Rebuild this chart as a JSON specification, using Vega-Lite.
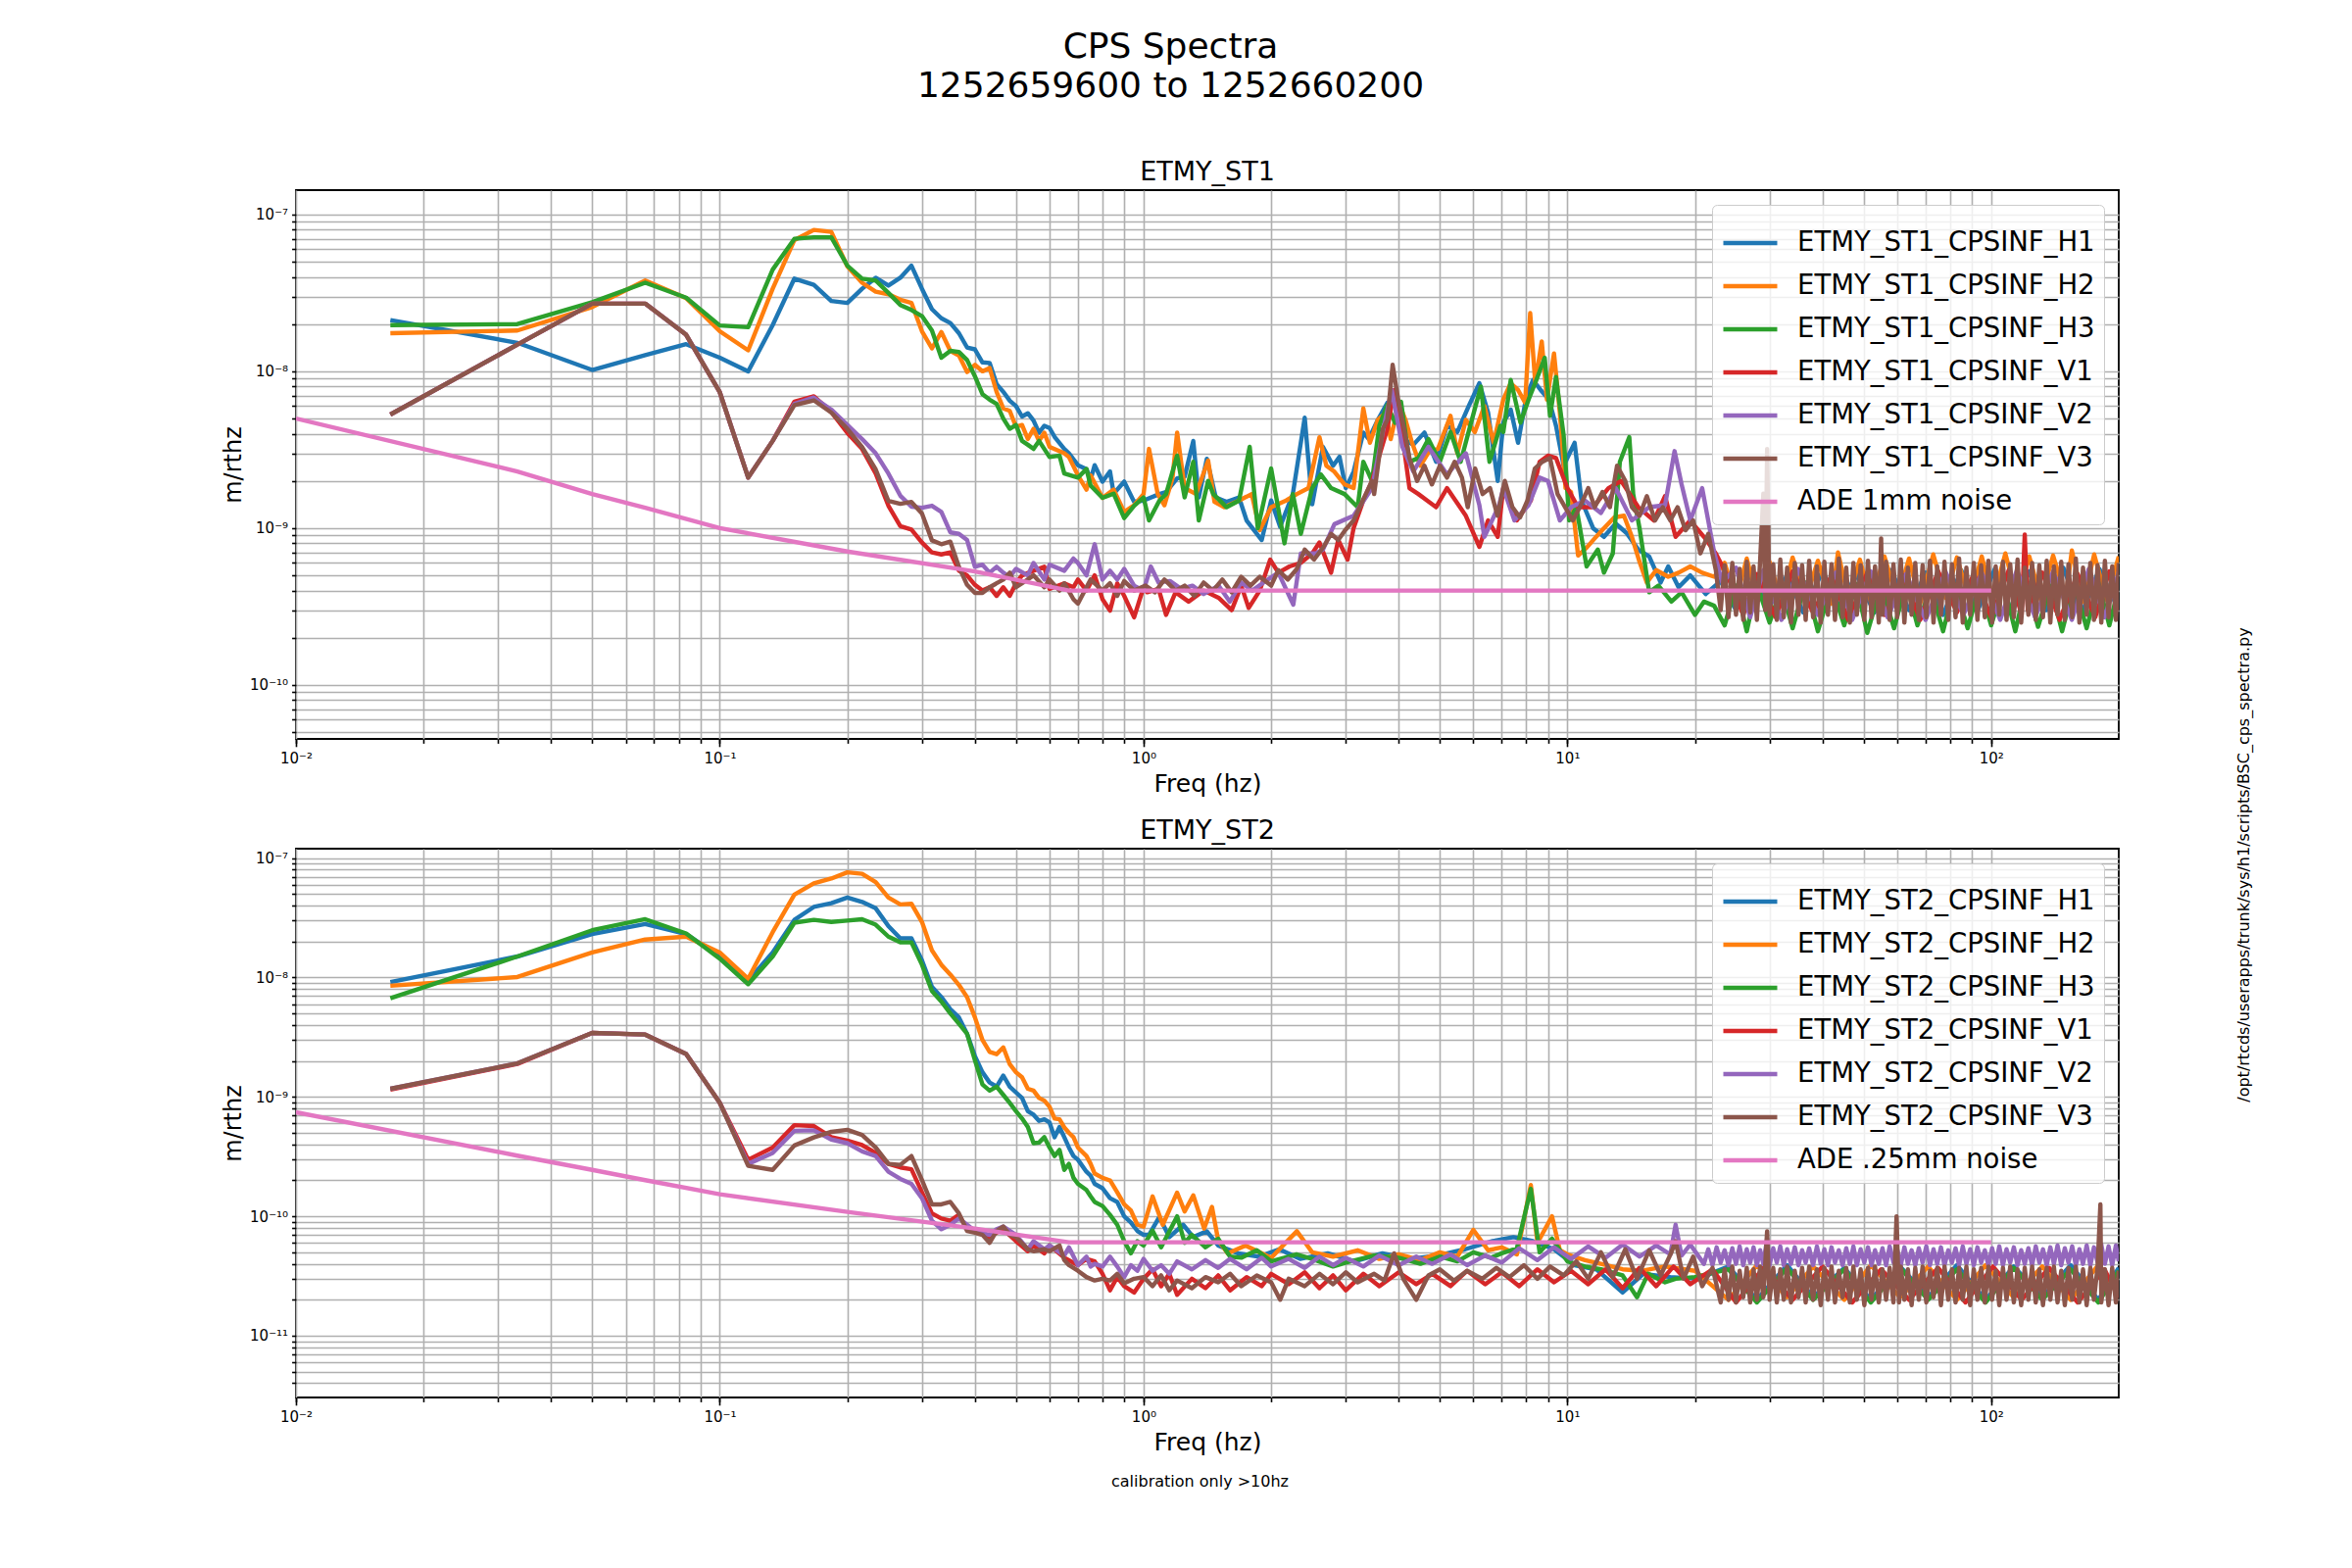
{
  "$schema": "https://vega.github.io/schema/vega-lite/v6.json",
  "background": "white",
  "padding": {"left": 225, "top": 30, "right": 10, "bottom": 10},
  "title": {
    "text": ["CPS Spectra", "1252659600 to 1252660200"],
    "fontSize": 36,
    "fontWeight": "normal",
    "lineHeight": 40,
    "anchor": "middle",
    "offset": 54,
    "dx": -67
  },
  "config": {
    "font": "DejaVu Sans",
    "view": {"stroke": "black", "strokeWidth": 1.8},
    "axis": {
      "gridColor": "#b0b0b0",
      "gridWidth": 1.6,
      "gridOpacity": 1,
      "domain": false,
      "tickColor": "black",
      "tickWidth": 1.6,
      "labelColor": "black",
      "titleColor": "black",
      "titleFontWeight": "normal",
      "labelOverlap": false,
      "labelFlush": false
    },
    "legend": {
      "orient": "top-right",
      "offset": 15,
      "padding": 9,
      "labelFontSize": 27.5,
      "labelColor": "black",
      "symbolType": "stroke",
      "symbolSize": 3025,
      "symbolStrokeWidth": 4.4,
      "rowPadding": 0,
      "labelOffset": 18,
      "fillColor": "rgba(255,255,255,0.8)",
      "strokeColor": "#cccccc",
      "cornerRadius": 5,
      "labelLimit": 600
    },
    "title": {"fontSize": 27, "fontWeight": "normal", "color": "black"}
  },
  "datasets": {
    "st1": [
      {"s":"H1","f":0.0167,"v":2.12e-8},{"s":"H1","f":0.0333,"v":1.52e-8},{"s":"H1","f":0.05,"v":1.02e-8},{"s":"H1","f":0.0667,"v":1.27e-8},{"s":"H1","f":0.0833,"v":1.49e-8},{"s":"H1","f":0.1,"v":1.22e-8},{"s":"H1","f":0.1167,"v":1.0e-8},{"s":"H1","f":0.1333,"v":1.97e-8},{"s":"H1","f":0.15,"v":3.9e-8},{"s":"H1","f":0.1667,"v":3.56e-8},{"s":"H1","f":0.1833,"v":2.81e-8},{"s":"H1","f":0.2,"v":2.73e-8},{"s":"H1","f":0.2167,"v":3.36e-8},{"s":"H1","f":0.2333,"v":3.95e-8},{"s":"H1","f":0.25,"v":3.52e-8},{"s":"H1","f":0.2667,"v":3.95e-8},{"s":"H1","f":0.2833,"v":4.72e-8},{"s":"H1","f":0.3,"v":3.36e-8},{"s":"H1","f":0.3167,"v":2.49e-8},{"s":"H1","f":0.3333,"v":2.18e-8},{"s":"H1","f":0.35,"v":2.03e-8},{"s":"H1","f":0.3667,"v":1.75e-8},{"s":"H1","f":0.3833,"v":1.42e-8},{"s":"H1","f":0.4,"v":1.38e-8},{"s":"H1","f":0.4167,"v":1.14e-8},{"s":"H1","f":0.4333,"v":1.13e-8},{"s":"H1","f":0.45,"v":8.3e-9},{"s":"H1","f":0.4667,"v":7.4e-9},{"s":"H1","f":0.4833,"v":6.5e-9},{"s":"H1","f":0.5,"v":6.0e-9},{"s":"H1","f":0.5167,"v":5.15e-9},{"s":"H1","f":0.5333,"v":5.4e-9},{"s":"H1","f":0.55,"v":4.85e-9},{"s":"H1","f":0.5667,"v":4.06e-9},{"s":"H1","f":0.5833,"v":4.5e-9},{"s":"H1","f":0.6,"v":4.35e-9},{"s":"H1","f":0.6167,"v":3.82e-9},{"s":"H1","f":0.65,"v":3.2e-9},{"s":"H1","f":0.6667,"v":3.0e-9},{"s":"H1","f":0.7,"v":2.52e-9},{"s":"H1","f":0.7333,"v":2.38e-9},{"s":"H1","f":0.75,"v":2.04e-9},{"s":"H1","f":0.7667,"v":2.52e-9},{"s":"H1","f":0.8,"v":1.98e-9},{"s":"H1","f":0.8333,"v":2.3e-9},{"s":"H1","f":0.85,"v":1.66e-9},{"s":"H1","f":0.9,"v":1.98e-9},{"s":"H1","f":0.95,"v":1.47e-9},{"s":"H1","f":1.0,"v":1.5e-9},{"s":"H1","f":1.09,"v":1.65e-9},{"s":"H1","f":1.13,"v":1.7e-9},{"s":"H1","f":1.2,"v":2.08e-9},{"s":"H1","f":1.25,"v":2.13e-9},{"s":"H1","f":1.31,"v":3.6e-9},{"s":"H1","f":1.35,"v":1.57e-9},{"s":"H1","f":1.41,"v":2.77e-9},{"s":"H1","f":1.48,"v":1.57e-9},{"s":"H1","f":1.57,"v":1.47e-9},{"s":"H1","f":1.68,"v":1.57e-9},{"s":"H1","f":1.75,"v":1.12e-9},{"s":"H1","f":1.9,"v":8.4e-10},{"s":"H1","f":2.0,"v":1.5e-9},{"s":"H1","f":2.1,"v":1.02e-9},{"s":"H1","f":2.25,"v":1.65e-9},{"s":"H1","f":2.4,"v":5.06e-9},{"s":"H1","f":2.5,"v":1.42e-9},{"s":"H1","f":2.65,"v":3.3e-9},{"s":"H1","f":2.8,"v":2.5e-9},{"s":"H1","f":2.9,"v":2.85e-9},{"s":"H1","f":3.0,"v":1.8e-9},{"s":"H1","f":3.13,"v":2.29e-9},{"s":"H1","f":3.3,"v":4.07e-9},{"s":"H1","f":3.4,"v":3.7e-9},{"s":"H1","f":3.57,"v":4.9e-9},{"s":"H1","f":3.76,"v":6.3e-9},{"s":"H1","f":3.92,"v":6.0e-9},{"s":"H1","f":4.1,"v":3.7e-9},{"s":"H1","f":4.33,"v":3.4e-9},{"s":"H1","f":4.6,"v":4.07e-9},{"s":"H1","f":4.9,"v":2.65e-9},{"s":"H1","f":5.2,"v":4.5e-9},{"s":"H1","f":5.5,"v":4.1e-9},{"s":"H1","f":5.85,"v":6.0e-9},{"s":"H1","f":6.2,"v":8.4e-9},{"s":"H1","f":6.5,"v":5.45e-9},{"s":"H1","f":6.85,"v":2.0e-9},{"s":"H1","f":7.06,"v":4.7e-9},{"s":"H1","f":7.35,"v":5.7e-9},{"s":"H1","f":7.65,"v":3.5e-9},{"s":"H1","f":8.0,"v":6.9e-9},{"s":"H1","f":8.3,"v":8.8e-9},{"s":"H1","f":8.65,"v":7.6e-9},{"s":"H1","f":9.05,"v":6.6e-9},{"s":"H1","f":9.4,"v":4.5e-9},{"s":"H1","f":9.8,"v":2.5e-9},{"s":"H1","f":10.4,"v":3.5e-9},{"s":"H1","f":10.8,"v":1.5e-9},{"s":"H1","f":11.5,"v":1.0e-9},{"s":"H1","f":12.2,"v":8.8e-10},{"s":"H1","f":13.0,"v":1.07e-9},{"s":"H1","f":13.8,"v":9.3e-10},{"s":"H1","f":14.7,"v":7.3e-10},{"s":"H1","f":15.6,"v":6.6e-10},{"s":"H1","f":16.6,"v":4.5e-10},{"s":"H1","f":17.3,"v":5.7e-10},{"s":"H1","f":18.3,"v":4.2e-10},{"s":"H1","f":19.5,"v":5.0e-10},{"s":"H1","f":21.2,"v":3.8e-10},{"s":"H1","f":23,"v":4.6e-10},{"s":"H1","f":25,"v":3.0e-10},{"s":"H1","f":27,"v":5.2e-10},{"s":"H1","f":30,"v":3.2e-10},{"s":"H1","f":33,"v":5.0e-10},{"s":"H1","f":36,"v":2.9e-10},{"s":"H1","f":40,"v":5.3e-10},{"s":"H1","f":44,"v":3.1e-10},{"s":"H1","f":48,"v":5.1e-10},{"s":"H1","f":53,"v":2.9e-10},{"s":"H1","f":58,"v":5.4e-10},{"s":"H1","f":64,"v":3.0e-10},{"s":"H1","f":70,"v":5.2e-10},{"s":"H1","f":77,"v":2.8e-10},{"s":"H1","f":85,"v":5.4e-10},{"s":"H1","f":93,"v":3.0e-10},{"s":"H1","f":102,"v":5.5e-10},{"s":"H1","f":112,"v":2.9e-10},{"s":"H1","f":123,"v":5.3e-10},{"s":"H1","f":135,"v":3.0e-10},{"s":"H1","f":148,"v":5.6e-10},{"s":"H1","f":163,"v":2.8e-10},{"s":"H1","f":180,"v":5.5e-10},{"s":"H1","f":200,"v":3.0e-10},
      {"s":"H2","f":0.0167,"v":1.75e-8},{"s":"H2","f":0.0333,"v":1.82e-8},{"s":"H2","f":0.05,"v":2.57e-8},{"s":"H2","f":0.0667,"v":3.79e-8},{"s":"H2","f":0.0833,"v":2.93e-8},{"s":"H2","f":0.1,"v":1.8e-8},{"s":"H2","f":0.1167,"v":1.36e-8},{"s":"H2","f":0.1333,"v":3.36e-8},{"s":"H2","f":0.15,"v":6.87e-8},{"s":"H2","f":0.1667,"v":7.97e-8},{"s":"H2","f":0.1833,"v":7.74e-8},{"s":"H2","f":0.2,"v":4.67e-8},{"s":"H2","f":0.2167,"v":3.67e-8},{"s":"H2","f":0.2333,"v":3.22e-8},{"s":"H2","f":0.25,"v":3.1e-8},{"s":"H2","f":0.2667,"v":2.86e-8},{"s":"H2","f":0.2833,"v":2.73e-8},{"s":"H2","f":0.3,"v":1.8e-8},{"s":"H2","f":0.3167,"v":1.4e-8},{"s":"H2","f":0.3333,"v":1.78e-8},{"s":"H2","f":0.35,"v":1.35e-8},{"s":"H2","f":0.3667,"v":1.26e-8},{"s":"H2","f":0.3833,"v":9.9e-9},{"s":"H2","f":0.4,"v":1.1e-8},{"s":"H2","f":0.4167,"v":1.0e-8},{"s":"H2","f":0.4333,"v":1.05e-8},{"s":"H2","f":0.45,"v":7.4e-9},{"s":"H2","f":0.4667,"v":5.8e-9},{"s":"H2","f":0.4833,"v":5.6e-9},{"s":"H2","f":0.5,"v":4.43e-9},{"s":"H2","f":0.5167,"v":4.55e-9},{"s":"H2","f":0.5333,"v":3.7e-9},{"s":"H2","f":0.55,"v":4.3e-9},{"s":"H2","f":0.5667,"v":3.6e-9},{"s":"H2","f":0.5833,"v":4.06e-9},{"s":"H2","f":0.6,"v":3.3e-9},{"s":"H2","f":0.65,"v":3.0e-9},{"s":"H2","f":0.6667,"v":2.84e-9},{"s":"H2","f":0.7,"v":2.17e-9},{"s":"H2","f":0.7333,"v":1.76e-9},{"s":"H2","f":0.75,"v":2.17e-9},{"s":"H2","f":0.8,"v":1.56e-9},{"s":"H2","f":0.85,"v":1.76e-9},{"s":"H2","f":0.9,"v":1.27e-9},{"s":"H2","f":0.95,"v":1.4e-9},{"s":"H2","f":1.0,"v":1.65e-9},{"s":"H2","f":1.03,"v":3.2e-9},{"s":"H2","f":1.08,"v":1.65e-9},{"s":"H2","f":1.12,"v":1.4e-9},{"s":"H2","f":1.17,"v":2.08e-9},{"s":"H2","f":1.2,"v":4.07e-9},{"s":"H2","f":1.25,"v":1.8e-9},{"s":"H2","f":1.33,"v":1.65e-9},{"s":"H2","f":1.42,"v":2.7e-9},{"s":"H2","f":1.47,"v":1.47e-9},{"s":"H2","f":1.55,"v":1.36e-9},{"s":"H2","f":1.68,"v":1.5e-9},{"s":"H2","f":1.8,"v":1.65e-9},{"s":"H2","f":1.88,"v":9.7e-10},{"s":"H2","f":2.0,"v":1.36e-9},{"s":"H2","f":2.17,"v":1.5e-9},{"s":"H2","f":2.3,"v":1.65e-9},{"s":"H2","f":2.45,"v":1.8e-9},{"s":"H2","f":2.6,"v":3.8e-9},{"s":"H2","f":2.7,"v":2.5e-9},{"s":"H2","f":2.82,"v":2.29e-9},{"s":"H2","f":2.98,"v":1.9e-9},{"s":"H2","f":3.13,"v":1.8e-9},{"s":"H2","f":3.3,"v":5.8e-9},{"s":"H2","f":3.42,"v":3.5e-9},{"s":"H2","f":3.57,"v":4.9e-9},{"s":"H2","f":3.73,"v":5.45e-9},{"s":"H2","f":3.83,"v":3.7e-9},{"s":"H2","f":4.0,"v":6.3e-9},{"s":"H2","f":4.15,"v":4.9e-9},{"s":"H2","f":4.3,"v":3.5e-9},{"s":"H2","f":4.5,"v":2.5e-9},{"s":"H2","f":4.72,"v":3.1e-9},{"s":"H2","f":4.95,"v":3.2e-9},{"s":"H2","f":5.3,"v":5.2e-9},{"s":"H2","f":5.5,"v":3.0e-9},{"s":"H2","f":5.76,"v":4.9e-9},{"s":"H2","f":6.05,"v":4.1e-9},{"s":"H2","f":6.37,"v":6.0e-9},{"s":"H2","f":6.7,"v":3.5e-9},{"s":"H2","f":7.06,"v":6.6e-9},{"s":"H2","f":7.35,"v":8.4e-9},{"s":"H2","f":7.65,"v":7.6e-9},{"s":"H2","f":7.95,"v":6.3e-9},{"s":"H2","f":8.17,"v":2.35e-8},{"s":"H2","f":8.4,"v":8.4e-9},{"s":"H2","f":8.7,"v":1.55e-8},{"s":"H2","f":8.95,"v":6.6e-9},{"s":"H2","f":9.3,"v":1.3e-8},{"s":"H2","f":9.6,"v":5.45e-9},{"s":"H2","f":9.9,"v":1.8e-9},{"s":"H2","f":10.2,"v":1.7e-9},{"s":"H2","f":10.6,"v":6.7e-10},{"s":"H2","f":11.1,"v":7.5e-10},{"s":"H2","f":11.6,"v":8.6e-10},{"s":"H2","f":12.2,"v":1.0e-9},{"s":"H2","f":12.9,"v":1.17e-9},{"s":"H2","f":13.6,"v":1.2e-9},{"s":"H2","f":14.2,"v":8.8e-10},{"s":"H2","f":14.8,"v":6.1e-10},{"s":"H2","f":15.4,"v":4.5e-10},{"s":"H2","f":16.2,"v":5.4e-10},{"s":"H2","f":17.3,"v":4.9e-10},{"s":"H2","f":18.3,"v":5.2e-10},{"s":"H2","f":19.5,"v":5.7e-10},{"s":"H2","f":20.8,"v":5.2e-10},{"s":"H2","f":22.2,"v":4.9e-10},{"s":"H2","f":23.5,"v":6.0e-10},{"s":"H2","f":25,"v":3.5e-10},{"s":"H2","f":26.5,"v":6.4e-10},{"s":"H2","f":28,"v":3.6e-10},{"s":"H2","f":30,"v":6.1e-10},{"s":"H2","f":32,"v":3.4e-10},{"s":"H2","f":34,"v":6.5e-10},{"s":"H2","f":36.5,"v":3.5e-10},{"s":"H2","f":39,"v":6.2e-10},{"s":"H2","f":42,"v":3.3e-10},{"s":"H2","f":43.5,"v":7.0e-10},{"s":"H2","f":46,"v":3.6e-10},{"s":"H2","f":49,"v":6.3e-10},{"s":"H2","f":52,"v":3.4e-10},{"s":"H2","f":56,"v":6.6e-10},{"s":"H2","f":60,"v":3.5e-10},{"s":"H2","f":64,"v":6.4e-10},{"s":"H2","f":68,"v":3.3e-10},{"s":"H2","f":73,"v":6.8e-10},{"s":"H2","f":78,"v":3.6e-10},{"s":"H2","f":83,"v":6.5e-10},{"s":"H2","f":89,"v":3.4e-10},{"s":"H2","f":95,"v":6.6e-10},{"s":"H2","f":101,"v":3.5e-10},{"s":"H2","f":108,"v":6.9e-10},{"s":"H2","f":115,"v":3.6e-10},{"s":"H2","f":123,"v":6.6e-10},{"s":"H2","f":131,"v":3.5e-10},{"s":"H2","f":140,"v":6.7e-10},{"s":"H2","f":150,"v":3.6e-10},{"s":"H2","f":155,"v":7.2e-10},{"s":"H2","f":165,"v":3.4e-10},{"s":"H2","f":175,"v":6.8e-10},{"s":"H2","f":187,"v":3.5e-10},{"s":"H2","f":200,"v":6.6e-10},
      {"s":"H3","f":0.0167,"v":1.97e-8},{"s":"H3","f":0.0333,"v":2.0e-8},{"s":"H3","f":0.05,"v":2.76e-8},{"s":"H3","f":0.0667,"v":3.67e-8},{"s":"H3","f":0.0833,"v":2.95e-8},{"s":"H3","f":0.1,"v":1.96e-8},{"s":"H3","f":0.1167,"v":1.91e-8},{"s":"H3","f":0.1333,"v":4.45e-8},{"s":"H3","f":0.15,"v":7.0e-8},{"s":"H3","f":0.1667,"v":7.16e-8},{"s":"H3","f":0.1833,"v":7.16e-8},{"s":"H3","f":0.2,"v":4.72e-8},{"s":"H3","f":0.2167,"v":3.9e-8},{"s":"H3","f":0.2333,"v":3.79e-8},{"s":"H3","f":0.25,"v":3.16e-8},{"s":"H3","f":0.2667,"v":2.65e-8},{"s":"H3","f":0.2833,"v":2.46e-8},{"s":"H3","f":0.3,"v":2.25e-8},{"s":"H3","f":0.3167,"v":1.82e-8},{"s":"H3","f":0.3333,"v":1.22e-8},{"s":"H3","f":0.35,"v":1.35e-8},{"s":"H3","f":0.3667,"v":1.33e-8},{"s":"H3","f":0.3833,"v":1.18e-8},{"s":"H3","f":0.4,"v":9.3e-9},{"s":"H3","f":0.4167,"v":7.15e-9},{"s":"H3","f":0.4333,"v":6.6e-9},{"s":"H3","f":0.45,"v":6.2e-9},{"s":"H3","f":0.4667,"v":5.0e-9},{"s":"H3","f":0.4833,"v":4.3e-9},{"s":"H3","f":0.5,"v":4.55e-9},{"s":"H3","f":0.5167,"v":3.6e-9},{"s":"H3","f":0.5333,"v":3.4e-9},{"s":"H3","f":0.55,"v":3.2e-9},{"s":"H3","f":0.5667,"v":3.6e-9},{"s":"H3","f":0.6,"v":2.84e-9},{"s":"H3","f":0.6333,"v":2.9e-9},{"s":"H3","f":0.65,"v":2.23e-9},{"s":"H3","f":0.7,"v":2.1e-9},{"s":"H3","f":0.7333,"v":2.38e-9},{"s":"H3","f":0.75,"v":1.87e-9},{"s":"H3","f":0.8,"v":1.56e-9},{"s":"H3","f":0.85,"v":1.66e-9},{"s":"H3","f":0.9,"v":1.16e-9},{"s":"H3","f":0.95,"v":1.39e-9},{"s":"H3","f":1.0,"v":1.57e-9},{"s":"H3","f":1.03,"v":1.12e-9},{"s":"H3","f":1.09,"v":1.5e-9},{"s":"H3","f":1.13,"v":1.65e-9},{"s":"H3","f":1.2,"v":2.9e-9},{"s":"H3","f":1.25,"v":1.57e-9},{"s":"H3","f":1.31,"v":2.65e-9},{"s":"H3","f":1.35,"v":1.12e-9},{"s":"H3","f":1.42,"v":2.0e-9},{"s":"H3","f":1.46,"v":1.65e-9},{"s":"H3","f":1.57,"v":1.36e-9},{"s":"H3","f":1.68,"v":1.5e-9},{"s":"H3","f":1.78,"v":3.3e-9},{"s":"H3","f":1.86,"v":1.0e-9},{"s":"H3","f":2.0,"v":2.4e-9},{"s":"H3","f":2.15,"v":8.0e-10},{"s":"H3","f":2.25,"v":1.65e-9},{"s":"H3","f":2.35,"v":9.2e-10},{"s":"H3","f":2.5,"v":1.8e-9},{"s":"H3","f":2.62,"v":2.2e-9},{"s":"H3","f":2.77,"v":1.8e-9},{"s":"H3","f":2.98,"v":1.65e-9},{"s":"H3","f":3.2,"v":1.36e-9},{"s":"H3","f":3.3,"v":2.65e-9},{"s":"H3","f":3.46,"v":2.0e-9},{"s":"H3","f":3.6,"v":4.5e-9},{"s":"H3","f":3.76,"v":6.1e-9},{"s":"H3","f":3.92,"v":4.7e-9},{"s":"H3","f":4.05,"v":6.4e-9},{"s":"H3","f":4.24,"v":2.65e-9},{"s":"H3","f":4.45,"v":2.8e-9},{"s":"H3","f":4.7,"v":3.7e-9},{"s":"H3","f":5.0,"v":2.65e-9},{"s":"H3","f":5.3,"v":4.1e-9},{"s":"H3","f":5.6,"v":2.65e-9},{"s":"H3","f":5.9,"v":4.5e-9},{"s":"H3","f":6.25,"v":8.0e-9},{"s":"H3","f":6.55,"v":2.65e-9},{"s":"H3","f":6.95,"v":4.5e-9},{"s":"H3","f":7.06,"v":4.1e-9},{"s":"H3","f":7.35,"v":8.8e-9},{"s":"H3","f":7.75,"v":4.7e-9},{"s":"H3","f":8.1,"v":6.6e-9},{"s":"H3","f":8.45,"v":8.8e-9},{"s":"H3","f":8.84,"v":1.22e-8},{"s":"H3","f":9.1,"v":5.2e-9},{"s":"H3","f":9.4,"v":9.2e-9},{"s":"H3","f":9.8,"v":3.9e-9},{"s":"H3","f":10.1,"v":1.12e-9},{"s":"H3","f":10.5,"v":1.36e-9},{"s":"H3","f":11.1,"v":5.7e-10},{"s":"H3","f":11.8,"v":7.3e-10},{"s":"H3","f":12.2,"v":5.2e-10},{"s":"H3","f":12.8,"v":6.9e-10},{"s":"H3","f":13.3,"v":2.65e-9},{"s":"H3","f":14.0,"v":3.8e-9},{"s":"H3","f":14.3,"v":1.65e-9},{"s":"H3","f":14.8,"v":1.0e-9},{"s":"H3","f":15.6,"v":3.9e-10},{"s":"H3","f":16.4,"v":4.3e-10},{"s":"H3","f":17.6,"v":3.4e-10},{"s":"H3","f":18.6,"v":3.9e-10},{"s":"H3","f":20.0,"v":2.8e-10},{"s":"H3","f":21.0,"v":3.4e-10},{"s":"H3","f":22.2,"v":3.2e-10},{"s":"H3","f":23.5,"v":2.4e-10},{"s":"H3","f":25,"v":4.3e-10},{"s":"H3","f":26.5,"v":2.2e-10},{"s":"H3","f":28,"v":4.4e-10},{"s":"H3","f":30,"v":2.5e-10},{"s":"H3","f":32,"v":4.2e-10},{"s":"H3","f":34,"v":2.3e-10},{"s":"H3","f":36.5,"v":4.5e-10},{"s":"H3","f":39,"v":2.2e-10},{"s":"H3","f":42,"v":4.3e-10},{"s":"H3","f":45,"v":2.4e-10},{"s":"H3","f":48,"v":4.4e-10},{"s":"H3","f":51,"v":2.15e-10},{"s":"H3","f":55,"v":4.3e-10},{"s":"H3","f":59,"v":2.3e-10},{"s":"H3","f":63,"v":4.5e-10},{"s":"H3","f":67,"v":2.4e-10},{"s":"H3","f":72,"v":4.2e-10},{"s":"H3","f":77,"v":2.2e-10},{"s":"H3","f":82,"v":4.4e-10},{"s":"H3","f":88,"v":2.3e-10},{"s":"H3","f":94,"v":4.3e-10},{"s":"H3","f":100,"v":2.4e-10},{"s":"H3","f":107,"v":4.4e-10},{"s":"H3","f":114,"v":2.2e-10},{"s":"H3","f":121,"v":4.5e-10},{"s":"H3","f":129,"v":2.35e-10},{"s":"H3","f":138,"v":4.3e-10},{"s":"H3","f":147,"v":2.2e-10},{"s":"H3","f":157,"v":4.4e-10},{"s":"H3","f":168,"v":2.3e-10},{"s":"H3","f":179,"v":4.5e-10},{"s":"H3","f":190,"v":2.4e-10},{"s":"H3","f":200,"v":4.2e-10},
      {"s":"V1","f":0.0167,"v":5.3e-9},{"s":"V1","f":0.0333,"v":1.48e-8},{"s":"V1","f":0.05,"v":2.7e-8},{"s":"V1","f":0.0667,"v":2.7e-8},{"s":"V1","f":0.0833,"v":1.71e-8},{"s":"V1","f":0.1,"v":7.36e-9},{"s":"V1","f":0.1167,"v":2.1e-9},{"s":"V1","f":0.1333,"v":3.6e-9},{"s":"V1","f":0.15,"v":6.4e-9},{"s":"V1","f":0.1667,"v":6.93e-9},{"s":"V1","f":0.1833,"v":5.5e-9},{"s":"V1","f":0.2,"v":4.05e-9},{"s":"V1","f":0.2167,"v":3.2e-9},{"s":"V1","f":0.2333,"v":2.23e-9},{"s":"V1","f":0.25,"v":1.39e-9},{"s":"V1","f":0.2667,"v":1.03e-9},{"s":"V1","f":0.2833,"v":9.8e-10},{"s":"V1","f":0.3,"v":8.1e-10},{"s":"V1","f":0.3167,"v":7.0e-10},{"s":"V1","f":0.3333,"v":6.8e-10},{"s":"V1","f":0.35,"v":7.0e-10},{"s":"V1","f":0.3667,"v":5.35e-10},{"s":"V1","f":0.3833,"v":5.0e-10},{"s":"V1","f":0.4,"v":4.35e-10},{"s":"V1","f":0.4167,"v":4.0e-10},{"s":"V1","f":0.4333,"v":4.2e-10},{"s":"V1","f":0.45,"v":3.7e-10},{"s":"V1","f":0.4667,"v":4.2e-10},{"s":"V1","f":0.4833,"v":3.7e-10},{"s":"V1","f":0.5,"v":4.45e-10},{"s":"V1","f":0.5167,"v":5.0e-10},{"s":"V1","f":0.55,"v":5.35e-10},{"s":"V1","f":0.5833,"v":5.67e-10},{"s":"V1","f":0.6,"v":4.1e-10},{"s":"V1","f":0.65,"v":4.45e-10},{"s":"V1","f":0.6833,"v":4.2e-10},{"s":"V1","f":0.7,"v":4.7e-10},{"s":"V1","f":0.7333,"v":4.0e-10},{"s":"V1","f":0.7667,"v":5.0e-10},{"s":"V1","f":0.8,"v":3.52e-10},{"s":"V1","f":0.8333,"v":2.98e-10},{"s":"V1","f":0.8667,"v":4.45e-10},{"s":"V1","f":0.9,"v":3.7e-10},{"s":"V1","f":0.95,"v":2.7e-10},{"s":"V1","f":1.0,"v":4.2e-10},{"s":"V1","f":1.02,"v":3.9e-10},{"s":"V1","f":1.085,"v":4.1e-10},{"s":"V1","f":1.13,"v":2.8e-10},{"s":"V1","f":1.19,"v":3.9e-10},{"s":"V1","f":1.277,"v":3.4e-10},{"s":"V1","f":1.386,"v":4.0e-10},{"s":"V1","f":1.503,"v":3.6e-10},{"s":"V1","f":1.614,"v":3.0e-10},{"s":"V1","f":1.7,"v":4.3e-10},{"s":"V1","f":1.77,"v":3.1e-10},{"s":"V1","f":1.88,"v":4.0e-10},{"s":"V1","f":1.99,"v":6.3e-10},{"s":"V1","f":2.08,"v":5.2e-10},{"s":"V1","f":2.21,"v":5.7e-10},{"s":"V1","f":2.35,"v":6.0e-10},{"s":"V1","f":2.5,"v":6.9e-10},{"s":"V1","f":2.6,"v":8.1e-10},{"s":"V1","f":2.77,"v":5.2e-10},{"s":"V1","f":2.88,"v":8.4e-10},{"s":"V1","f":3.03,"v":6.3e-10},{"s":"V1","f":3.13,"v":1.0e-9},{"s":"V1","f":3.3,"v":1.5e-9},{"s":"V1","f":3.46,"v":2.0e-9},{"s":"V1","f":3.6,"v":2.9e-9},{"s":"V1","f":3.76,"v":4.3e-9},{"s":"V1","f":3.9,"v":7.6e-9},{"s":"V1","f":4.05,"v":4.5e-9},{"s":"V1","f":4.24,"v":1.8e-9},{"s":"V1","f":4.45,"v":1.65e-9},{"s":"V1","f":4.9,"v":1.36e-9},{"s":"V1","f":5.2,"v":1.8e-9},{"s":"V1","f":5.76,"v":1.2e-9},{"s":"V1","f":6.2,"v":7.6e-10},{"s":"V1","f":6.5,"v":1.12e-9},{"s":"V1","f":6.85,"v":8.8e-10},{"s":"V1","f":7.06,"v":1.8e-9},{"s":"V1","f":7.6,"v":1.12e-9},{"s":"V1","f":8.2,"v":1.5e-9},{"s":"V1","f":8.6,"v":2.65e-9},{"s":"V1","f":9.0,"v":2.9e-9},{"s":"V1","f":9.4,"v":2.8e-9},{"s":"V1","f":10.0,"v":1.8e-9},{"s":"V1","f":10.6,"v":1.36e-9},{"s":"V1","f":11.5,"v":1.36e-9},{"s":"V1","f":12.5,"v":1.8e-9},{"s":"V1","f":13.4,"v":2.0e-9},{"s":"V1","f":14.7,"v":1.36e-9},{"s":"V1","f":16.0,"v":1.12e-9},{"s":"V1","f":17.0,"v":1.6e-9},{"s":"V1","f":18.0,"v":8.8e-10},{"s":"V1","f":19.5,"v":1.12e-9},{"s":"V1","f":21.0,"v":8.8e-10},{"s":"V1","f":22.4,"v":6.9e-10},{"s":"V1","f":24,"v":4.8e-10},{"s":"V1","f":26,"v":2.8e-10},{"s":"V1","f":28,"v":5.1e-10},{"s":"V1","f":31,"v":2.7e-10},{"s":"V1","f":34,"v":5.3e-10},{"s":"V1","f":38,"v":2.9e-10},{"s":"V1","f":42,"v":5.0e-10},{"s":"V1","f":46,"v":2.6e-10},{"s":"V1","f":51,"v":5.2e-10},{"s":"V1","f":56,"v":2.8e-10},{"s":"V1","f":62,"v":5.0e-10},{"s":"V1","f":68,"v":2.6e-10},{"s":"V1","f":75,"v":5.3e-10},{"s":"V1","f":83,"v":2.9e-10},{"s":"V1","f":91,"v":5.1e-10},{"s":"V1","f":100,"v":2.7e-10},{"s":"V1","f":110,"v":5.4e-10},{"s":"V1","f":118,"v":2.8e-10},{"s":"V1","f":120,"v":9.1e-10},{"s":"V1","f":122,"v":3.0e-10},{"s":"V1","f":132,"v":5.2e-10},{"s":"V1","f":145,"v":2.6e-10},{"s":"V1","f":160,"v":5.1e-10},{"s":"V1","f":176,"v":2.7e-10},{"s":"V1","f":190,"v":5.3e-10},{"s":"V1","f":200,"v":3.0e-10},
      {"s":"V2","f":0.0167,"v":5.3e-9},{"s":"V2","f":0.0333,"v":1.48e-8},{"s":"V2","f":0.05,"v":2.7e-8},{"s":"V2","f":0.0667,"v":2.7e-8},{"s":"V2","f":0.0833,"v":1.71e-8},{"s":"V2","f":0.1,"v":7.36e-9},{"s":"V2","f":0.1167,"v":2.1e-9},{"s":"V2","f":0.1333,"v":3.6e-9},{"s":"V2","f":0.15,"v":6.2e-9},{"s":"V2","f":0.1667,"v":6.8e-9},{"s":"V2","f":0.1833,"v":5.7e-9},{"s":"V2","f":0.2,"v":4.55e-9},{"s":"V2","f":0.2167,"v":3.7e-9},{"s":"V2","f":0.2333,"v":3.0e-9},{"s":"V2","f":0.25,"v":2.23e-9},{"s":"V2","f":0.2667,"v":1.61e-9},{"s":"V2","f":0.2833,"v":1.37e-9},{"s":"V2","f":0.3,"v":1.35e-9},{"s":"V2","f":0.3167,"v":1.39e-9},{"s":"V2","f":0.3333,"v":1.27e-9},{"s":"V2","f":0.35,"v":9.4e-10},{"s":"V2","f":0.3667,"v":9.2e-10},{"s":"V2","f":0.3833,"v":8.4e-10},{"s":"V2","f":0.4,"v":5.67e-10},{"s":"V2","f":0.4167,"v":5.85e-10},{"s":"V2","f":0.4333,"v":5.2e-10},{"s":"V2","f":0.45,"v":5.67e-10},{"s":"V2","f":0.4667,"v":5.2e-10},{"s":"V2","f":0.4833,"v":4.9e-10},{"s":"V2","f":0.5,"v":5.5e-10},{"s":"V2","f":0.5333,"v":5.0e-10},{"s":"V2","f":0.55,"v":6.0e-10},{"s":"V2","f":0.5833,"v":4.7e-10},{"s":"V2","f":0.6,"v":5.85e-10},{"s":"V2","f":0.65,"v":5.35e-10},{"s":"V2","f":0.6833,"v":6.4e-10},{"s":"V2","f":0.7,"v":6.0e-10},{"s":"V2","f":0.7333,"v":5.0e-10},{"s":"V2","f":0.7667,"v":7.9e-10},{"s":"V2","f":0.8,"v":4.7e-10},{"s":"V2","f":0.8333,"v":5.35e-10},{"s":"V2","f":0.8667,"v":4.7e-10},{"s":"V2","f":0.9,"v":5.5e-10},{"s":"V2","f":0.95,"v":4.3e-10},{"s":"V2","f":1.0,"v":4.0e-10},{"s":"V2","f":1.04,"v":5.7e-10},{"s":"V2","f":1.085,"v":4.5e-10},{"s":"V2","f":1.154,"v":4.6e-10},{"s":"V2","f":1.226,"v":4.1e-10},{"s":"V2","f":1.304,"v":4.3e-10},{"s":"V2","f":1.386,"v":3.8e-10},{"s":"V2","f":1.503,"v":4.3e-10},{"s":"V2","f":1.598,"v":3.4e-10},{"s":"V2","f":1.7,"v":4.5e-10},{"s":"V2","f":1.805,"v":4.0e-10},{"s":"V2","f":1.918,"v":4.5e-10},{"s":"V2","f":2.08,"v":5.2e-10},{"s":"V2","f":2.256,"v":3.25e-10},{"s":"V2","f":2.35,"v":6.9e-10},{"s":"V2","f":2.55,"v":6.9e-10},{"s":"V2","f":2.65,"v":7.3e-10},{"s":"V2","f":2.82,"v":1.06e-9},{"s":"V2","f":3.13,"v":1.2e-9},{"s":"V2","f":3.46,"v":1.8e-9},{"s":"V2","f":3.68,"v":4.3e-9},{"s":"V2","f":3.85,"v":7.6e-9},{"s":"V2","f":4.08,"v":3.3e-9},{"s":"V2","f":4.33,"v":2.3e-9},{"s":"V2","f":4.7,"v":3.3e-9},{"s":"V2","f":5.2,"v":2.2e-9},{"s":"V2","f":5.76,"v":3.0e-9},{"s":"V2","f":6.2,"v":1.4e-9},{"s":"V2","f":6.37,"v":8.8e-10},{"s":"V2","f":6.9,"v":1.4e-9},{"s":"V2","f":7.06,"v":1.8e-9},{"s":"V2","f":7.5,"v":1.12e-9},{"s":"V2","f":8.1,"v":1.4e-9},{"s":"V2","f":8.6,"v":2.1e-9},{"s":"V2","f":9.0,"v":2.0e-9},{"s":"V2","f":9.6,"v":1.12e-9},{"s":"V2","f":10.2,"v":1.36e-9},{"s":"V2","f":11.0,"v":1.5e-9},{"s":"V2","f":12.0,"v":1.25e-9},{"s":"V2","f":13.0,"v":1.8e-9},{"s":"V2","f":14.2,"v":1.12e-9},{"s":"V2","f":15.6,"v":1.36e-9},{"s":"V2","f":17.0,"v":1.4e-9},{"s":"V2","f":17.9,"v":3.1e-9},{"s":"V2","f":18.6,"v":1.9e-9},{"s":"V2","f":19.5,"v":1.12e-9},{"s":"V2","f":20.8,"v":1.8e-9},{"s":"V2","f":22.2,"v":7.0e-10},{"s":"V2","f":23.2,"v":4.5e-10},{"s":"V2","f":25,"v":5.6e-10},{"s":"V2","f":27,"v":2.7e-10},{"s":"V2","f":29,"v":5.4e-10},{"s":"V2","f":32,"v":2.6e-10},{"s":"V2","f":35,"v":5.5e-10},{"s":"V2","f":39,"v":2.8e-10},{"s":"V2","f":43,"v":5.2e-10},{"s":"V2","f":47,"v":2.6e-10},{"s":"V2","f":52,"v":5.3e-10},{"s":"V2","f":57,"v":2.7e-10},{"s":"V2","f":63,"v":5.1e-10},{"s":"V2","f":70,"v":2.6e-10},{"s":"V2","f":78,"v":5.3e-10},{"s":"V2","f":86,"v":2.8e-10},{"s":"V2","f":95,"v":5.2e-10},{"s":"V2","f":105,"v":2.6e-10},{"s":"V2","f":115,"v":5.4e-10},{"s":"V2","f":127,"v":2.7e-10},{"s":"V2","f":140,"v":5.3e-10},{"s":"V2","f":155,"v":2.6e-10},{"s":"V2","f":170,"v":5.5e-10},{"s":"V2","f":185,"v":2.7e-10},{"s":"V2","f":200,"v":5.2e-10},
      {"s":"V3","f":0.0167,"v":5.3e-9},{"s":"V3","f":0.0333,"v":1.48e-8},{"s":"V3","f":0.05,"v":2.7e-8},{"s":"V3","f":0.0667,"v":2.7e-8},{"s":"V3","f":0.0833,"v":1.71e-8},{"s":"V3","f":0.1,"v":7.36e-9},{"s":"V3","f":0.1167,"v":2.1e-9},{"s":"V3","f":0.1333,"v":3.6e-9},{"s":"V3","f":0.15,"v":6.08e-9},{"s":"V3","f":0.1667,"v":6.53e-9},{"s":"V3","f":0.1833,"v":5.46e-9},{"s":"V3","f":0.2,"v":4.3e-9},{"s":"V3","f":0.2167,"v":3.29e-9},{"s":"V3","f":0.2333,"v":2.37e-9},{"s":"V3","f":0.25,"v":1.49e-9},{"s":"V3","f":0.2667,"v":1.43e-9},{"s":"V3","f":0.2833,"v":1.47e-9},{"s":"V3","f":0.3,"v":1.24e-9},{"s":"V3","f":0.3167,"v":8.36e-10},{"s":"V3","f":0.3333,"v":7.9e-10},{"s":"V3","f":0.35,"v":8.2e-10},{"s":"V3","f":0.3667,"v":5.67e-10},{"s":"V3","f":0.3833,"v":4.35e-10},{"s":"V3","f":0.4,"v":3.86e-10},{"s":"V3","f":0.4167,"v":3.86e-10},{"s":"V3","f":0.4333,"v":4.2e-10},{"s":"V3","f":0.45,"v":4.45e-10},{"s":"V3","f":0.4667,"v":4.7e-10},{"s":"V3","f":0.4833,"v":5.2e-10},{"s":"V3","f":0.5,"v":4.2e-10},{"s":"V3","f":0.5167,"v":4.45e-10},{"s":"V3","f":0.55,"v":5.0e-10},{"s":"V3","f":0.5833,"v":4.2e-10},{"s":"V3","f":0.6,"v":4.7e-10},{"s":"V3","f":0.6333,"v":4.0e-10},{"s":"V3","f":0.65,"v":4.45e-10},{"s":"V3","f":0.6833,"v":3.52e-10},{"s":"V3","f":0.7,"v":3.3e-10},{"s":"V3","f":0.7333,"v":4.2e-10},{"s":"V3","f":0.75,"v":4.7e-10},{"s":"V3","f":0.8,"v":4.0e-10},{"s":"V3","f":0.8333,"v":4.45e-10},{"s":"V3","f":0.8667,"v":3.7e-10},{"s":"V3","f":0.9,"v":4.6e-10},{"s":"V3","f":0.95,"v":4.0e-10},{"s":"V3","f":1.011,"v":4.3e-10},{"s":"V3","f":1.064,"v":3.9e-10},{"s":"V3","f":1.12,"v":4.7e-10},{"s":"V3","f":1.19,"v":4.0e-10},{"s":"V3","f":1.25,"v":4.3e-10},{"s":"V3","f":1.317,"v":3.7e-10},{"s":"V3","f":1.386,"v":4.5e-10},{"s":"V3","f":1.458,"v":4.0e-10},{"s":"V3","f":1.534,"v":4.7e-10},{"s":"V3","f":1.614,"v":3.9e-10},{"s":"V3","f":1.7,"v":4.9e-10},{"s":"V3","f":1.787,"v":4.3e-10},{"s":"V3","f":1.88,"v":4.9e-10},{"s":"V3","f":2.0,"v":4.3e-10},{"s":"V3","f":2.08,"v":5.4e-10},{"s":"V3","f":2.19,"v":4.7e-10},{"s":"V3","f":2.3,"v":5.5e-10},{"s":"V3","f":2.4,"v":7.3e-10},{"s":"V3","f":2.525,"v":6.3e-10},{"s":"V3","f":2.66,"v":7.6e-10},{"s":"V3","f":2.77,"v":9.2e-10},{"s":"V3","f":2.88,"v":8.4e-10},{"s":"V3","f":2.99,"v":9.7e-10},{"s":"V3","f":3.13,"v":1.12e-9},{"s":"V3","f":3.29,"v":1.5e-9},{"s":"V3","f":3.46,"v":2.0e-9},{"s":"V3","f":3.5,"v":1.65e-9},{"s":"V3","f":3.67,"v":4.3e-9},{"s":"V3","f":3.76,"v":4.9e-9},{"s":"V3","f":3.87,"v":1.1e-8},{"s":"V3","f":4.0,"v":6.3e-9},{"s":"V3","f":4.12,"v":4.3e-9},{"s":"V3","f":4.24,"v":2.8e-9},{"s":"V3","f":4.42,"v":2.0e-9},{"s":"V3","f":4.6,"v":2.5e-9},{"s":"V3","f":4.79,"v":1.9e-9},{"s":"V3","f":5.0,"v":2.5e-9},{"s":"V3","f":5.2,"v":2.1e-9},{"s":"V3","f":5.42,"v":2.65e-9},{"s":"V3","f":5.64,"v":2.1e-9},{"s":"V3","f":5.82,"v":1.36e-9},{"s":"V3","f":6.06,"v":2.4e-9},{"s":"V3","f":6.31,"v":1.65e-9},{"s":"V3","f":6.57,"v":1.8e-9},{"s":"V3","f":6.84,"v":1.2e-9},{"s":"V3","f":7.12,"v":2.0e-9},{"s":"V3","f":7.42,"v":1.36e-9},{"s":"V3","f":7.73,"v":1.17e-9},{"s":"V3","f":8.05,"v":1.5e-9},{"s":"V3","f":8.38,"v":2.4e-9},{"s":"V3","f":8.73,"v":2.65e-9},{"s":"V3","f":9.1,"v":2.8e-9},{"s":"V3","f":9.48,"v":1.65e-9},{"s":"V3","f":9.88,"v":1.36e-9},{"s":"V3","f":10.3,"v":1.12e-9},{"s":"V3","f":10.7,"v":1.36e-9},{"s":"V3","f":11.2,"v":1.8e-9},{"s":"V3","f":11.6,"v":1.36e-9},{"s":"V3","f":12.1,"v":1.7e-9},{"s":"V3","f":12.6,"v":1.36e-9},{"s":"V3","f":13.1,"v":2.5e-9},{"s":"V3","f":13.7,"v":2.0e-9},{"s":"V3","f":14.2,"v":1.36e-9},{"s":"V3","f":14.8,"v":1.2e-9},{"s":"V3","f":15.4,"v":1.6e-9},{"s":"V3","f":16.1,"v":1.12e-9},{"s":"V3","f":16.8,"v":1.36e-9},{"s":"V3","f":17.5,"v":1.12e-9},{"s":"V3","f":18.2,"v":1.36e-9},{"s":"V3","f":19.0,"v":9.7e-10},{"s":"V3","f":19.8,"v":1.12e-9},{"s":"V3","f":20.6,"v":6.9e-10},{"s":"V3","f":21.5,"v":9.2e-10},{"s":"V3","f":22.4,"v":5.4e-10},
      {"s":"V3","f":23,"v":3.0e-10},{"s":"V3","f":23.5,"v":5.8e-10},{"s":"V3","f":24,"v":2.7e-10},{"s":"V3","f":24.5,"v":6.0e-10},{"s":"V3","f":25,"v":2.8e-10},{"s":"V3","f":25.5,"v":5.5e-10},{"s":"V3","f":26,"v":2.6e-10},{"s":"V3","f":26.5,"v":6.1e-10},{"s":"V3","f":27,"v":2.9e-10},{"s":"V3","f":27.5,"v":5.7e-10},{"s":"V3","f":28,"v":2.6e-10},{"s":"V3","f":28.5,"v":6.2e-10},{"s":"V3","f":29,"v":1.66e-9},{"s":"V3","f":29.3,"v":3.0e-10},{"s":"V3","f":29.6,"v":3.2e-9},{"s":"V3","f":30,"v":2.8e-10},{"s":"V3","f":30.6,"v":5.9e-10},{"s":"V3","f":31.2,"v":2.6e-10},{"s":"V3","f":31.8,"v":6.3e-10},{"s":"V3","f":32.4,"v":2.7e-10},{"s":"V3","f":33,"v":5.6e-10},{"s":"V3","f":33.7,"v":2.5e-10},{"s":"V3","f":34.4,"v":6.0e-10},{"s":"V3","f":35.1,"v":2.8e-10},{"s":"V3","f":35.8,"v":5.8e-10},{"s":"V3","f":36.5,"v":2.6e-10},{"s":"V3","f":37.2,"v":6.2e-10},{"s":"V3","f":38,"v":2.7e-10},{"s":"V3","f":38.8,"v":5.7e-10},{"s":"V3","f":39.6,"v":2.5e-10},{"s":"V3","f":40.4,"v":6.1e-10},{"s":"V3","f":41.2,"v":2.8e-10},{"s":"V3","f":42,"v":5.9e-10},{"s":"V3","f":42.8,"v":2.6e-10},{"s":"V3","f":43.7,"v":6.4e-10},{"s":"V3","f":44.6,"v":2.7e-10},{"s":"V3","f":45.5,"v":5.6e-10},{"s":"V3","f":46.4,"v":2.5e-10},{"s":"V3","f":47.3,"v":6.0e-10},{"s":"V3","f":48.2,"v":2.8e-10},{"s":"V3","f":49.2,"v":5.8e-10},{"s":"V3","f":50.2,"v":2.6e-10},{"s":"V3","f":51.2,"v":6.2e-10},{"s":"V3","f":52.2,"v":2.7e-10},{"s":"V3","f":53.2,"v":5.7e-10},{"s":"V3","f":54.3,"v":2.5e-10},{"s":"V3","f":55,"v":8.6e-10},{"s":"V3","f":55.4,"v":2.8e-10},{"s":"V3","f":56.5,"v":6.1e-10},{"s":"V3","f":57.6,"v":2.6e-10},{"s":"V3","f":58.8,"v":5.9e-10},{"s":"V3","f":60,"v":2.7e-10},{"s":"V3","f":61.2,"v":6.3e-10},{"s":"V3","f":62.4,"v":2.5e-10},{"s":"V3","f":63.6,"v":5.6e-10},{"s":"V3","f":64.9,"v":2.8e-10},{"s":"V3","f":66.2,"v":6.0e-10},{"s":"V3","f":67.5,"v":2.6e-10},{"s":"V3","f":68.9,"v":5.8e-10},{"s":"V3","f":70.3,"v":2.7e-10},{"s":"V3","f":71.7,"v":6.2e-10},{"s":"V3","f":73.1,"v":2.5e-10},{"s":"V3","f":74.6,"v":5.7e-10},{"s":"V3","f":76.1,"v":2.8e-10},{"s":"V3","f":77.6,"v":6.1e-10},{"s":"V3","f":79.2,"v":2.6e-10},{"s":"V3","f":80.8,"v":5.9e-10},{"s":"V3","f":82.4,"v":2.7e-10},{"s":"V3","f":84,"v":6.4e-10},{"s":"V3","f":85.7,"v":2.5e-10},{"s":"V3","f":87.4,"v":5.6e-10},{"s":"V3","f":89.2,"v":2.8e-10},{"s":"V3","f":91,"v":6.0e-10},{"s":"V3","f":92.8,"v":2.6e-10},{"s":"V3","f":94.7,"v":5.8e-10},{"s":"V3","f":96.6,"v":2.7e-10},{"s":"V3","f":98.5,"v":6.2e-10},{"s":"V3","f":100.5,"v":2.5e-10},{"s":"V3","f":102.5,"v":5.7e-10},{"s":"V3","f":104.5,"v":2.8e-10},{"s":"V3","f":106.6,"v":6.1e-10},{"s":"V3","f":108.7,"v":2.6e-10},{"s":"V3","f":110.9,"v":5.9e-10},{"s":"V3","f":113.1,"v":2.7e-10},{"s":"V3","f":115.4,"v":6.3e-10},{"s":"V3","f":117.7,"v":2.5e-10},{"s":"V3","f":120,"v":5.6e-10},{"s":"V3","f":122.4,"v":2.8e-10},{"s":"V3","f":124.9,"v":6.0e-10},{"s":"V3","f":127.4,"v":2.6e-10},{"s":"V3","f":129.9,"v":5.8e-10},{"s":"V3","f":132.5,"v":2.7e-10},{"s":"V3","f":135.2,"v":6.2e-10},{"s":"V3","f":137.9,"v":2.5e-10},{"s":"V3","f":140.6,"v":5.7e-10},{"s":"V3","f":143.4,"v":2.8e-10},{"s":"V3","f":146.3,"v":6.1e-10},{"s":"V3","f":149.2,"v":2.6e-10},{"s":"V3","f":152.2,"v":5.9e-10},{"s":"V3","f":155.3,"v":2.7e-10},{"s":"V3","f":158.4,"v":6.4e-10},{"s":"V3","f":161.5,"v":2.5e-10},{"s":"V3","f":164.7,"v":5.6e-10},{"s":"V3","f":168,"v":2.8e-10},{"s":"V3","f":171.4,"v":6.0e-10},{"s":"V3","f":174.8,"v":2.6e-10},{"s":"V3","f":178.3,"v":5.8e-10},{"s":"V3","f":181.9,"v":2.5e-10},{"s":"V3","f":185.5,"v":6.2e-10},{"s":"V3","f":189.2,"v":2.7e-10},{"s":"V3","f":193,"v":5.7e-10},{"s":"V3","f":196.9,"v":2.6e-10},{"s":"V3","f":200,"v":6.0e-10},
      {"s":"ADE","f":0.01,"v":5.0e-9},{"s":"ADE","f":0.0333,"v":2.3e-9},{"s":"ADE","f":0.05,"v":1.65e-9},{"s":"ADE","f":0.0667,"v":1.35e-9},{"s":"ADE","f":0.1,"v":1.0e-9},{"s":"ADE","f":0.2,"v":7.1e-10},{"s":"ADE","f":0.4,"v":5.3e-10},{"s":"ADE","f":0.6667,"v":4.0e-10},{"s":"ADE","f":100,"v":4.0e-10}
    ],
    "st2": [
      {"s":"H1","f":0.0167,"v":9.16e-9},{"s":"H1","f":0.0333,"v":1.5e-8},{"s":"H1","f":0.05,"v":2.31e-8},{"s":"H1","f":0.0667,"v":2.81e-8},{"s":"H1","f":0.0833,"v":2.31e-8},{"s":"H1","f":0.1,"v":1.5e-8},{"s":"H1","f":0.1167,"v":9.4e-9},{"s":"H1","f":0.1333,"v":1.62e-8},{"s":"H1","f":0.15,"v":3.04e-8},{"s":"H1","f":0.1667,"v":3.9e-8},{"s":"H1","f":0.1833,"v":4.2e-8},{"s":"H1","f":0.2,"v":4.68e-8},{"s":"H1","f":0.2167,"v":4.3e-8},{"s":"H1","f":0.2333,"v":3.8e-8},{"s":"H1","f":0.25,"v":2.7e-8},{"s":"H1","f":0.2667,"v":2.13e-8},{"s":"H1","f":0.2833,"v":2.13e-8},{"s":"H1","f":0.3,"v":1.39e-8},{"s":"H1","f":0.3167,"v":8.34e-9},{"s":"H1","f":0.3333,"v":6.86e-9},{"s":"H1","f":0.35,"v":5.42e-9},{"s":"H1","f":0.3667,"v":4.64e-9},{"s":"H1","f":0.3833,"v":3.38e-9},{"s":"H1","f":0.4,"v":2.2e-9},{"s":"H1","f":0.4167,"v":1.61e-9},{"s":"H1","f":0.4333,"v":1.32e-9},{"s":"H1","f":0.45,"v":1.22e-9},{"s":"H1","f":0.4667,"v":1.51e-9},{"s":"H1","f":0.4833,"v":1.22e-9},{"s":"H1","f":0.5,"v":1.09e-9},{"s":"H1","f":0.5167,"v":9.8e-10},{"s":"H1","f":0.5333,"v":7.6e-10},{"s":"H1","f":0.55,"v":7.1e-10},{"s":"H1","f":0.5667,"v":6.3e-10},{"s":"H1","f":0.5833,"v":6.5e-10},{"s":"H1","f":0.6,"v":6.1e-10},{"s":"H1","f":0.6167,"v":4.6e-10},{"s":"H1","f":0.6333,"v":5.6e-10},{"s":"H1","f":0.65,"v":4.6e-10},{"s":"H1","f":0.6667,"v":3.77e-10},{"s":"H1","f":0.6833,"v":3.2e-10},{"s":"H1","f":0.7,"v":2.98e-10},{"s":"H1","f":0.7333,"v":2.36e-10},{"s":"H1","f":0.75,"v":2.19e-10},{"s":"H1","f":0.7667,"v":1.87e-10},{"s":"H1","f":0.8,"v":1.72e-10},{"s":"H1","f":0.8333,"v":1.42e-10},{"s":"H1","f":0.8667,"v":1.32e-10},{"s":"H1","f":0.9,"v":1.0e-10},{"s":"H1","f":0.9333,"v":8.9e-11},{"s":"H1","f":0.9667,"v":7.55e-11},{"s":"H1","f":1.0,"v":7.0e-11},{"s":"H1","f":1.03,"v":7.0e-11},{"s":"H1","f":1.09,"v":9.9e-11},{"s":"H1","f":1.15,"v":6.7e-11},{"s":"H1","f":1.24,"v":8.5e-11},{"s":"H1","f":1.31,"v":6.7e-11},{"s":"H1","f":1.41,"v":7.5e-11},{"s":"H1","f":1.5,"v":5.7e-11},{"s":"H1","f":1.67,"v":4.9e-11},{"s":"H1","f":1.87,"v":4.6e-11},{"s":"H1","f":2.09,"v":5.3e-11},{"s":"H1","f":2.34,"v":4.4e-11},{"s":"H1","f":2.72,"v":4.9e-11},{"s":"H1","f":3.15,"v":4.2e-11},{"s":"H1","f":3.66,"v":4.9e-11},{"s":"H1","f":4.25,"v":4.4e-11},{"s":"H1","f":4.94,"v":4.7e-11},{"s":"H1","f":5.74,"v":5.3e-11},{"s":"H1","f":6.66,"v":6.2e-11},{"s":"H1","f":7.46,"v":6.7e-11},{"s":"H1","f":8.3,"v":6.2e-11},{"s":"H1","f":9.3,"v":5.3e-11},{"s":"H1","f":10.4,"v":3.9e-11},{"s":"H1","f":11.7,"v":3.6e-11},{"s":"H1","f":13.5,"v":2.3e-11},{"s":"H1","f":15.1,"v":3.3e-11},{"s":"H1","f":17.5,"v":3.1e-11},{"s":"H1","f":20.3,"v":3.0e-11},{"s":"H1","f":24,"v":3.8e-11},{"s":"H1","f":28,"v":2.0e-11},{"s":"H1","f":33,"v":3.9e-11},{"s":"H1","f":38,"v":2.1e-11},{"s":"H1","f":45,"v":3.7e-11},{"s":"H1","f":52,"v":2.0e-11},{"s":"H1","f":61,"v":3.8e-11},{"s":"H1","f":71,"v":2.1e-11},{"s":"H1","f":83,"v":3.9e-11},{"s":"H1","f":97,"v":2.0e-11},{"s":"H1","f":113,"v":3.8e-11},{"s":"H1","f":132,"v":2.1e-11},{"s":"H1","f":154,"v":3.9e-11},{"s":"H1","f":179,"v":2.0e-11},{"s":"H1","f":200,"v":3.7e-11},
      {"s":"H2","f":0.0167,"v":8.53e-9},{"s":"H2","f":0.0333,"v":1.01e-8},{"s":"H2","f":0.05,"v":1.62e-8},{"s":"H2","f":0.0667,"v":2.08e-8},{"s":"H2","f":0.0833,"v":2.2e-8},{"s":"H2","f":0.1,"v":1.62e-8},{"s":"H2","f":0.1167,"v":9.75e-9},{"s":"H2","f":0.1333,"v":2.4e-8},{"s":"H2","f":0.15,"v":4.94e-8},{"s":"H2","f":0.1667,"v":6.15e-8},{"s":"H2","f":0.1833,"v":6.75e-8},{"s":"H2","f":0.2,"v":7.6e-8},{"s":"H2","f":0.2167,"v":7.4e-8},{"s":"H2","f":0.2333,"v":6.3e-8},{"s":"H2","f":0.25,"v":4.68e-8},{"s":"H2","f":0.2667,"v":4.1e-8},{"s":"H2","f":0.2833,"v":4.15e-8},{"s":"H2","f":0.3,"v":2.92e-8},{"s":"H2","f":0.3167,"v":1.69e-8},{"s":"H2","f":0.3333,"v":1.28e-8},{"s":"H2","f":0.35,"v":1.06e-8},{"s":"H2","f":0.3667,"v":8.67e-9},{"s":"H2","f":0.3833,"v":6.86e-9},{"s":"H2","f":0.4,"v":4.64e-9},{"s":"H2","f":0.4167,"v":3.0e-9},{"s":"H2","f":0.4333,"v":2.38e-9},{"s":"H2","f":0.45,"v":2.28e-9},{"s":"H2","f":0.4667,"v":2.6e-9},{"s":"H2","f":0.4833,"v":1.88e-9},{"s":"H2","f":0.5,"v":1.61e-9},{"s":"H2","f":0.5167,"v":1.46e-9},{"s":"H2","f":0.5333,"v":1.17e-9},{"s":"H2","f":0.55,"v":1.13e-9},{"s":"H2","f":0.5667,"v":9.8e-10},{"s":"H2","f":0.5833,"v":9.3e-10},{"s":"H2","f":0.6,"v":8.26e-10},{"s":"H2","f":0.6167,"v":6.6e-10},{"s":"H2","f":0.6333,"v":6.5e-10},{"s":"H2","f":0.65,"v":5.57e-10},{"s":"H2","f":0.6667,"v":5.0e-10},{"s":"H2","f":0.6833,"v":4.6e-10},{"s":"H2","f":0.7,"v":3.77e-10},{"s":"H2","f":0.7333,"v":3.2e-10},{"s":"H2","f":0.75,"v":2.75e-10},{"s":"H2","f":0.7667,"v":2.28e-10},{"s":"H2","f":0.8,"v":2.1e-10},{"s":"H2","f":0.8333,"v":2.0e-10},{"s":"H2","f":0.8667,"v":1.59e-10},{"s":"H2","f":0.9,"v":1.26e-10},{"s":"H2","f":0.9333,"v":1.12e-10},{"s":"H2","f":0.9667,"v":8.5e-11},{"s":"H2","f":1.0,"v":8.2e-11},{"s":"H2","f":1.05,"v":1.47e-10},{"s":"H2","f":1.11,"v":8.5e-11},{"s":"H2","f":1.2,"v":1.58e-10},{"s":"H2","f":1.25,"v":1.1e-10},{"s":"H2","f":1.31,"v":1.5e-10},{"s":"H2","f":1.39,"v":7.9e-11},{"s":"H2","f":1.45,"v":1.2e-10},{"s":"H2","f":1.5,"v":6.3e-11},{"s":"H2","f":1.58,"v":4.9e-11},{"s":"H2","f":1.74,"v":5.7e-11},{"s":"H2","f":2.0,"v":4.5e-11},{"s":"H2","f":2.3,"v":7.5e-11},{"s":"H2","f":2.5,"v":5.0e-11},{"s":"H2","f":2.8,"v":4.6e-11},{"s":"H2","f":3.2,"v":5.2e-11},{"s":"H2","f":3.6,"v":4.4e-11},{"s":"H2","f":4.0,"v":4.8e-11},{"s":"H2","f":4.5,"v":4.3e-11},{"s":"H2","f":5.0,"v":5.0e-11},{"s":"H2","f":5.5,"v":4.6e-11},{"s":"H2","f":6.0,"v":7.7e-11},{"s":"H2","f":6.5,"v":5.2e-11},{"s":"H2","f":7.0,"v":5.5e-11},{"s":"H2","f":7.6,"v":4.8e-11},{"s":"H2","f":8.2,"v":1.83e-10},{"s":"H2","f":8.5,"v":6.0e-11},{"s":"H2","f":9.2,"v":1.0e-10},{"s":"H2","f":9.6,"v":5.2e-11},{"s":"H2","f":10.0,"v":4.8e-11},{"s":"H2","f":11.0,"v":4.3e-11},{"s":"H2","f":12.0,"v":4.0e-11},{"s":"H2","f":13.5,"v":3.6e-11},{"s":"H2","f":15.0,"v":3.5e-11},{"s":"H2","f":17.0,"v":3.8e-11},{"s":"H2","f":20.0,"v":3.5e-11},{"s":"H2","f":24,"v":2.0e-11},{"s":"H2","f":28,"v":3.9e-11},{"s":"H2","f":33,"v":2.1e-11},{"s":"H2","f":38,"v":3.8e-11},{"s":"H2","f":45,"v":2.0e-11},{"s":"H2","f":52,"v":3.9e-11},{"s":"H2","f":61,"v":2.1e-11},{"s":"H2","f":71,"v":3.8e-11},{"s":"H2","f":83,"v":2.0e-11},{"s":"H2","f":97,"v":3.9e-11},{"s":"H2","f":113,"v":2.1e-11},{"s":"H2","f":132,"v":3.8e-11},{"s":"H2","f":154,"v":2.0e-11},{"s":"H2","f":179,"v":3.9e-11},{"s":"H2","f":200,"v":2.2e-11},
      {"s":"H3","f":0.0167,"v":6.7e-9},{"s":"H3","f":0.0333,"v":1.5e-8},{"s":"H3","f":0.05,"v":2.49e-8},{"s":"H3","f":0.0667,"v":3.08e-8},{"s":"H3","f":0.0833,"v":2.34e-8},{"s":"H3","f":0.1,"v":1.44e-8},{"s":"H3","f":0.1167,"v":8.8e-9},{"s":"H3","f":0.1333,"v":1.5e-8},{"s":"H3","f":0.15,"v":2.88e-8},{"s":"H3","f":0.1667,"v":3.04e-8},{"s":"H3","f":0.1833,"v":2.92e-8},{"s":"H3","f":0.2,"v":3.0e-8},{"s":"H3","f":0.2167,"v":3.08e-8},{"s":"H3","f":0.2333,"v":2.77e-8},{"s":"H3","f":0.25,"v":2.2e-8},{"s":"H3","f":0.2667,"v":1.97e-8},{"s":"H3","f":0.2833,"v":1.97e-8},{"s":"H3","f":0.3,"v":1.28e-8},{"s":"H3","f":0.3167,"v":7.7e-9},{"s":"H3","f":0.3333,"v":6.3e-9},{"s":"H3","f":0.35,"v":5.0e-9},{"s":"H3","f":0.3667,"v":4.1e-9},{"s":"H3","f":0.3833,"v":3.38e-9},{"s":"H3","f":0.4,"v":2.03e-9},{"s":"H3","f":0.4167,"v":1.27e-9},{"s":"H3","f":0.4333,"v":1.13e-9},{"s":"H3","f":0.45,"v":1.22e-9},{"s":"H3","f":0.4667,"v":1.04e-9},{"s":"H3","f":0.4833,"v":8.9e-10},{"s":"H3","f":0.5,"v":7.6e-10},{"s":"H3","f":0.5167,"v":6.6e-10},{"s":"H3","f":0.5333,"v":5.6e-10},{"s":"H3","f":0.55,"v":4.1e-10},{"s":"H3","f":0.5667,"v":4.15e-10},{"s":"H3","f":0.5833,"v":4.6e-10},{"s":"H3","f":0.6,"v":3.77e-10},{"s":"H3","f":0.6167,"v":3.2e-10},{"s":"H3","f":0.6333,"v":3.6e-10},{"s":"H3","f":0.65,"v":2.45e-10},{"s":"H3","f":0.6667,"v":2.75e-10},{"s":"H3","f":0.6833,"v":2.1e-10},{"s":"H3","f":0.7,"v":1.87e-10},{"s":"H3","f":0.7333,"v":1.66e-10},{"s":"H3","f":0.75,"v":1.47e-10},{"s":"H3","f":0.7667,"v":1.32e-10},{"s":"H3","f":0.8,"v":1.22e-10},{"s":"H3","f":0.8333,"v":1.03e-10},{"s":"H3","f":0.8667,"v":8.5e-11},{"s":"H3","f":0.9,"v":6.2e-11},{"s":"H3","f":0.9333,"v":4.9e-11},{"s":"H3","f":0.9667,"v":6.2e-11},{"s":"H3","f":1.0,"v":5.7e-11},{"s":"H3","f":1.05,"v":7.6e-11},{"s":"H3","f":1.1,"v":5.5e-11},{"s":"H3","f":1.2,"v":1.0e-10},{"s":"H3","f":1.25,"v":6.0e-11},{"s":"H3","f":1.3,"v":7.0e-11},{"s":"H3","f":1.4,"v":5.5e-11},{"s":"H3","f":1.5,"v":6.5e-11},{"s":"H3","f":1.6,"v":4.6e-11},{"s":"H3","f":1.7,"v":4.5e-11},{"s":"H3","f":1.85,"v":5.2e-11},{"s":"H3","f":2.0,"v":4.2e-11},{"s":"H3","f":2.3,"v":4.8e-11},{"s":"H3","f":2.5,"v":4.4e-11},{"s":"H3","f":2.8,"v":3.8e-11},{"s":"H3","f":3.0,"v":4.1e-11},{"s":"H3","f":3.5,"v":4.7e-11},{"s":"H3","f":4.0,"v":4.5e-11},{"s":"H3","f":4.5,"v":4.0e-11},{"s":"H3","f":5.0,"v":4.6e-11},{"s":"H3","f":5.5,"v":4.2e-11},{"s":"H3","f":6.0,"v":5.0e-11},{"s":"H3","f":6.6,"v":4.5e-11},{"s":"H3","f":7.0,"v":4.9e-11},{"s":"H3","f":7.6,"v":5.4e-11},{"s":"H3","f":8.2,"v":1.7e-10},{"s":"H3","f":8.6,"v":5.0e-11},{"s":"H3","f":9.2,"v":6.5e-11},{"s":"H3","f":10.0,"v":4.2e-11},{"s":"H3","f":11.0,"v":3.8e-11},{"s":"H3","f":12.0,"v":3.6e-11},{"s":"H3","f":13.5,"v":3.2e-11},{"s":"H3","f":14.6,"v":2.1e-11},{"s":"H3","f":15.5,"v":3.3e-11},{"s":"H3","f":17.0,"v":2.8e-11},{"s":"H3","f":18.0,"v":3.0e-11},{"s":"H3","f":20.0,"v":3.1e-11},{"s":"H3","f":24,"v":3.6e-11},{"s":"H3","f":28,"v":1.9e-11},{"s":"H3","f":33,"v":3.7e-11},{"s":"H3","f":38,"v":2.0e-11},{"s":"H3","f":45,"v":3.6e-11},{"s":"H3","f":52,"v":1.9e-11},{"s":"H3","f":61,"v":3.7e-11},{"s":"H3","f":71,"v":2.0e-11},{"s":"H3","f":83,"v":3.6e-11},{"s":"H3","f":97,"v":1.9e-11},{"s":"H3","f":113,"v":3.7e-11},{"s":"H3","f":132,"v":2.0e-11},{"s":"H3","f":154,"v":3.6e-11},{"s":"H3","f":179,"v":1.9e-11},{"s":"H3","f":200,"v":3.5e-11},
      {"s":"V1","f":0.0167,"v":1.15e-9},{"s":"V1","f":0.0333,"v":1.89e-9},{"s":"V1","f":0.05,"v":3.44e-9},{"s":"V1","f":0.0667,"v":3.33e-9},{"s":"V1","f":0.0833,"v":2.29e-9},{"s":"V1","f":0.1,"v":8.93e-10},{"s":"V1","f":0.1167,"v":2.98e-10},{"s":"V1","f":0.1333,"v":3.77e-10},{"s":"V1","f":0.15,"v":5.8e-10},{"s":"V1","f":0.1667,"v":5.7e-10},{"s":"V1","f":0.1833,"v":4.6e-10},{"s":"V1","f":0.2,"v":4.3e-10},{"s":"V1","f":0.2167,"v":3.95e-10},{"s":"V1","f":0.2333,"v":3.4e-10},{"s":"V1","f":0.25,"v":2.75e-10},{"s":"V1","f":0.2667,"v":2.57e-10},{"s":"V1","f":0.2833,"v":2.48e-10},{"s":"V1","f":0.3,"v":1.59e-10},{"s":"V1","f":0.3167,"v":1.06e-10},{"s":"V1","f":0.3333,"v":9.6e-11},{"s":"V1","f":0.35,"v":9.2e-11},{"s":"V1","f":0.3667,"v":1.03e-10},{"s":"V1","f":0.3833,"v":7.8e-11},{"s":"V1","f":0.4,"v":7.55e-11},{"s":"V1","f":0.4333,"v":6.7e-11},{"s":"V1","f":0.45,"v":7.3e-11},{"s":"V1","f":0.4667,"v":7.8e-11},{"s":"V1","f":0.5,"v":6.2e-11},{"s":"V1","f":0.5333,"v":5.1e-11},{"s":"V1","f":0.55,"v":5.7e-11},{"s":"V1","f":0.5833,"v":4.9e-11},{"s":"V1","f":0.6,"v":5.7e-11},{"s":"V1","f":0.65,"v":4.5e-11},{"s":"V1","f":0.7,"v":3.9e-11},{"s":"V1","f":0.7333,"v":4.4e-11},{"s":"V1","f":0.7667,"v":4.2e-11},{"s":"V1","f":0.8,"v":3.3e-11},{"s":"V1","f":0.8333,"v":2.4e-11},{"s":"V1","f":0.8667,"v":3.1e-11},{"s":"V1","f":0.9,"v":2.6e-11},{"s":"V1","f":0.95,"v":2.3e-11},{"s":"V1","f":1.0,"v":3.0e-11},{"s":"V1","f":1.05,"v":3.6e-11},{"s":"V1","f":1.1,"v":2.6e-11},{"s":"V1","f":1.15,"v":3.3e-11},{"s":"V1","f":1.2,"v":2.2e-11},{"s":"V1","f":1.3,"v":3.0e-11},{"s":"V1","f":1.4,"v":2.5e-11},{"s":"V1","f":1.5,"v":3.2e-11},{"s":"V1","f":1.6,"v":2.4e-11},{"s":"V1","f":1.75,"v":3.1e-11},{"s":"V1","f":1.9,"v":2.6e-11},{"s":"V1","f":2.0,"v":3.3e-11},{"s":"V1","f":2.2,"v":2.7e-11},{"s":"V1","f":2.4,"v":3.4e-11},{"s":"V1","f":2.6,"v":2.5e-11},{"s":"V1","f":2.8,"v":3.2e-11},{"s":"V1","f":3.0,"v":2.4e-11},{"s":"V1","f":3.3,"v":3.3e-11},{"s":"V1","f":3.6,"v":2.6e-11},{"s":"V1","f":4.0,"v":3.4e-11},{"s":"V1","f":4.4,"v":2.7e-11},{"s":"V1","f":4.8,"v":3.3e-11},{"s":"V1","f":5.3,"v":2.6e-11},{"s":"V1","f":5.8,"v":3.5e-11},{"s":"V1","f":6.4,"v":2.7e-11},{"s":"V1","f":7.0,"v":3.4e-11},{"s":"V1","f":7.7,"v":2.6e-11},{"s":"V1","f":8.5,"v":3.6e-11},{"s":"V1","f":9.3,"v":2.8e-11},{"s":"V1","f":10.2,"v":3.5e-11},{"s":"V1","f":11.2,"v":2.7e-11},{"s":"V1","f":12.3,"v":3.6e-11},{"s":"V1","f":13.5,"v":2.5e-11},{"s":"V1","f":14.8,"v":3.7e-11},{"s":"V1","f":16.2,"v":2.6e-11},{"s":"V1","f":17.8,"v":3.8e-11},{"s":"V1","f":19.5,"v":2.7e-11},{"s":"V1","f":22,"v":3.6e-11},{"s":"V1","f":25,"v":1.9e-11},{"s":"V1","f":29,"v":3.7e-11},{"s":"V1","f":34,"v":2.0e-11},{"s":"V1","f":40,"v":3.8e-11},{"s":"V1","f":47,"v":1.9e-11},{"s":"V1","f":55,"v":3.6e-11},{"s":"V1","f":64,"v":2.0e-11},{"s":"V1","f":75,"v":3.7e-11},{"s":"V1","f":87,"v":1.9e-11},{"s":"V1","f":101,"v":3.8e-11},{"s":"V1","f":118,"v":2.0e-11},{"s":"V1","f":137,"v":3.7e-11},{"s":"V1","f":160,"v":1.9e-11},{"s":"V1","f":185,"v":3.6e-11},{"s":"V1","f":200,"v":2.1e-11},
      {"s":"V2","f":0.0167,"v":1.17e-9},{"s":"V2","f":0.0333,"v":1.91e-9},{"s":"V2","f":0.05,"v":3.44e-9},{"s":"V2","f":0.0667,"v":3.33e-9},{"s":"V2","f":0.0833,"v":2.29e-9},{"s":"V2","f":0.1,"v":8.93e-10},{"s":"V2","f":0.1167,"v":2.75e-10},{"s":"V2","f":0.1333,"v":3.4e-10},{"s":"V2","f":0.15,"v":5.2e-10},{"s":"V2","f":0.1667,"v":5.25e-10},{"s":"V2","f":0.1833,"v":4.4e-10},{"s":"V2","f":0.2,"v":4.1e-10},{"s":"V2","f":0.2167,"v":3.5e-10},{"s":"V2","f":0.2333,"v":3.2e-10},{"s":"V2","f":0.25,"v":2.36e-10},{"s":"V2","f":0.2667,"v":2.06e-10},{"s":"V2","f":0.2833,"v":1.87e-10},{"s":"V2","f":0.3,"v":1.42e-10},{"s":"V2","f":0.3167,"v":9.2e-11},{"s":"V2","f":0.3333,"v":7.8e-11},{"s":"V2","f":0.35,"v":8.5e-11},{"s":"V2","f":0.3667,"v":9.6e-11},{"s":"V2","f":0.3833,"v":8.5e-11},{"s":"V2","f":0.4,"v":7.55e-11},{"s":"V2","f":0.4333,"v":7.0e-11},{"s":"V2","f":0.45,"v":7.8e-11},{"s":"V2","f":0.4667,"v":8.2e-11},{"s":"V2","f":0.5,"v":7.0e-11},{"s":"V2","f":0.5333,"v":5.3e-11},{"s":"V2","f":0.55,"v":6.2e-11},{"s":"V2","f":0.5833,"v":5.3e-11},{"s":"V2","f":0.6,"v":5.7e-11},{"s":"V2","f":0.65,"v":4.7e-11},{"s":"V2","f":0.6667,"v":5.5e-11},{"s":"V2","f":0.7,"v":3.9e-11},{"s":"V2","f":0.7333,"v":4.6e-11},{"s":"V2","f":0.75,"v":3.8e-11},{"s":"V2","f":0.7667,"v":4.0e-11},{"s":"V2","f":0.8,"v":3.8e-11},{"s":"V2","f":0.8333,"v":4.6e-11},{"s":"V2","f":0.8667,"v":3.8e-11},{"s":"V2","f":0.9,"v":3.1e-11},{"s":"V2","f":0.9333,"v":3.9e-11},{"s":"V2","f":0.9667,"v":3.5e-11},{"s":"V2","f":1.0,"v":4.4e-11},{"s":"V2","f":1.05,"v":3.5e-11},{"s":"V2","f":1.1,"v":3.9e-11},{"s":"V2","f":1.15,"v":3.3e-11},{"s":"V2","f":1.2,"v":4.2e-11},{"s":"V2","f":1.3,"v":3.6e-11},{"s":"V2","f":1.4,"v":4.3e-11},{"s":"V2","f":1.5,"v":3.7e-11},{"s":"V2","f":1.6,"v":4.4e-11},{"s":"V2","f":1.75,"v":3.6e-11},{"s":"V2","f":1.9,"v":4.5e-11},{"s":"V2","f":2.0,"v":3.8e-11},{"s":"V2","f":2.2,"v":4.4e-11},{"s":"V2","f":2.4,"v":3.7e-11},{"s":"V2","f":2.6,"v":4.6e-11},{"s":"V2","f":2.8,"v":3.9e-11},{"s":"V2","f":3.0,"v":4.5e-11},{"s":"V2","f":3.3,"v":3.8e-11},{"s":"V2","f":3.6,"v":4.7e-11},{"s":"V2","f":4.0,"v":3.9e-11},{"s":"V2","f":4.4,"v":4.6e-11},{"s":"V2","f":4.8,"v":4.0e-11},{"s":"V2","f":5.3,"v":4.8e-11},{"s":"V2","f":5.8,"v":3.9e-11},{"s":"V2","f":6.4,"v":4.7e-11},{"s":"V2","f":7.0,"v":4.1e-11},{"s":"V2","f":7.7,"v":5.4e-11},{"s":"V2","f":8.5,"v":4.3e-11},{"s":"V2","f":9.3,"v":5.5e-11},{"s":"V2","f":10.2,"v":4.4e-11},{"s":"V2","f":11.2,"v":5.6e-11},{"s":"V2","f":12.3,"v":4.5e-11},{"s":"V2","f":13.5,"v":5.8e-11},{"s":"V2","f":14.8,"v":4.6e-11},{"s":"V2","f":16.2,"v":5.7e-11},{"s":"V2","f":17.5,"v":4.8e-11},{"s":"V2","f":18.0,"v":8.5e-11},{"s":"V2","f":18.6,"v":4.7e-11},{"s":"V2","f":19.5,"v":5.8e-11},
      {"s":"V2","f":21,"v":4.0e-11},{"s":"V2","f":21.5,"v":5.3e-11},{"s":"V2","f":22,"v":3.9e-11},{"s":"V2","f":22.5,"v":5.5e-11},{"s":"V2","f":23,"v":4.1e-11},{"s":"V2","f":23.5,"v":5.2e-11},{"s":"V2","f":24,"v":3.9e-11},{"s":"V2","f":24.5,"v":5.4e-11},{"s":"V2","f":25,"v":4.0e-11},{"s":"V2","f":25.5,"v":5.6e-11},{"s":"V2","f":26,"v":3.9e-11},{"s":"V2","f":26.5,"v":5.3e-11},{"s":"V2","f":27,"v":4.1e-11},{"s":"V2","f":27.5,"v":5.5e-11},{"s":"V2","f":28,"v":3.9e-11},{"s":"V2","f":28.5,"v":5.2e-11},{"s":"V2","f":29,"v":4.0e-11},{"s":"V2","f":29.6,"v":6.5e-11},{"s":"V2","f":30,"v":3.9e-11},{"s":"V2","f":30.6,"v":5.4e-11},{"s":"V2","f":31.2,"v":4.1e-11},{"s":"V2","f":31.8,"v":5.6e-11},{"s":"V2","f":32.4,"v":3.9e-11},{"s":"V2","f":33,"v":5.3e-11},{"s":"V2","f":33.7,"v":4.0e-11},{"s":"V2","f":34.4,"v":5.5e-11},{"s":"V2","f":35.1,"v":3.9e-11},{"s":"V2","f":35.8,"v":5.2e-11},{"s":"V2","f":36.5,"v":4.1e-11},{"s":"V2","f":37.2,"v":5.4e-11},{"s":"V2","f":38,"v":3.9e-11},{"s":"V2","f":38.8,"v":5.6e-11},{"s":"V2","f":39.6,"v":4.0e-11},{"s":"V2","f":40.4,"v":5.3e-11},{"s":"V2","f":41.2,"v":3.9e-11},{"s":"V2","f":42,"v":5.5e-11},{"s":"V2","f":42.8,"v":4.1e-11},{"s":"V2","f":43.7,"v":5.2e-11},{"s":"V2","f":44.6,"v":3.9e-11},{"s":"V2","f":45.5,"v":5.4e-11},{"s":"V2","f":46.4,"v":4.0e-11},{"s":"V2","f":47.3,"v":5.6e-11},{"s":"V2","f":48.2,"v":3.9e-11},{"s":"V2","f":49.2,"v":5.3e-11},{"s":"V2","f":50.2,"v":4.1e-11},{"s":"V2","f":51.2,"v":5.5e-11},{"s":"V2","f":52.2,"v":3.9e-11},{"s":"V2","f":53.2,"v":5.2e-11},{"s":"V2","f":54.3,"v":4.0e-11},{"s":"V2","f":55.4,"v":5.4e-11},{"s":"V2","f":56.5,"v":3.9e-11},{"s":"V2","f":57.6,"v":5.6e-11},{"s":"V2","f":58.8,"v":4.1e-11},{"s":"V2","f":60,"v":5.3e-11},{"s":"V2","f":61.2,"v":3.9e-11},{"s":"V2","f":62.4,"v":5.5e-11},{"s":"V2","f":63.6,"v":4.0e-11},{"s":"V2","f":64.9,"v":5.2e-11},{"s":"V2","f":66.2,"v":3.9e-11},{"s":"V2","f":67.5,"v":5.4e-11},{"s":"V2","f":68.9,"v":4.1e-11},{"s":"V2","f":70.3,"v":5.6e-11},{"s":"V2","f":71.7,"v":3.9e-11},{"s":"V2","f":73.1,"v":5.3e-11},{"s":"V2","f":74.6,"v":4.0e-11},{"s":"V2","f":76.1,"v":5.5e-11},{"s":"V2","f":77.6,"v":3.9e-11},{"s":"V2","f":79.2,"v":5.2e-11},{"s":"V2","f":80.8,"v":4.1e-11},{"s":"V2","f":82.4,"v":5.4e-11},{"s":"V2","f":84,"v":3.9e-11},{"s":"V2","f":85.7,"v":5.6e-11},{"s":"V2","f":87.4,"v":4.0e-11},{"s":"V2","f":89.2,"v":5.3e-11},{"s":"V2","f":91,"v":3.9e-11},{"s":"V2","f":92.8,"v":5.5e-11},{"s":"V2","f":94.7,"v":4.1e-11},{"s":"V2","f":96.6,"v":5.2e-11},{"s":"V2","f":98.5,"v":3.9e-11},{"s":"V2","f":100.5,"v":5.4e-11},{"s":"V2","f":102.5,"v":4.0e-11},{"s":"V2","f":104.5,"v":5.6e-11},{"s":"V2","f":106.6,"v":3.9e-11},{"s":"V2","f":108.7,"v":5.3e-11},{"s":"V2","f":110.9,"v":4.1e-11},{"s":"V2","f":113.1,"v":5.5e-11},{"s":"V2","f":115.4,"v":3.9e-11},{"s":"V2","f":117.7,"v":5.2e-11},{"s":"V2","f":120,"v":4.0e-11},{"s":"V2","f":122.4,"v":5.4e-11},{"s":"V2","f":124.9,"v":3.9e-11},{"s":"V2","f":127.4,"v":5.6e-11},{"s":"V2","f":129.9,"v":4.1e-11},{"s":"V2","f":132.5,"v":5.3e-11},{"s":"V2","f":135.2,"v":3.9e-11},{"s":"V2","f":137.9,"v":5.5e-11},{"s":"V2","f":140.6,"v":4.0e-11},{"s":"V2","f":143.4,"v":5.7e-11},{"s":"V2","f":146.3,"v":3.9e-11},{"s":"V2","f":149.2,"v":5.4e-11},{"s":"V2","f":152.2,"v":4.1e-11},{"s":"V2","f":155.3,"v":5.6e-11},{"s":"V2","f":158.4,"v":3.9e-11},{"s":"V2","f":161.5,"v":5.3e-11},{"s":"V2","f":164.7,"v":4.0e-11},{"s":"V2","f":168,"v":5.7e-11},{"s":"V2","f":171.4,"v":3.9e-11},{"s":"V2","f":174.8,"v":5.5e-11},{"s":"V2","f":178.3,"v":4.1e-11},{"s":"V2","f":181.9,"v":5.8e-11},{"s":"V2","f":185.5,"v":4.0e-11},{"s":"V2","f":189.2,"v":5.6e-11},{"s":"V2","f":193,"v":3.9e-11},{"s":"V2","f":196.9,"v":5.7e-11},{"s":"V2","f":200,"v":4.2e-11},
      {"s":"V3","f":0.0167,"v":1.17e-9},{"s":"V3","f":0.0333,"v":1.91e-9},{"s":"V3","f":0.05,"v":3.44e-9},{"s":"V3","f":0.0667,"v":3.33e-9},{"s":"V3","f":0.0833,"v":2.29e-9},{"s":"V3","f":0.1,"v":8.93e-10},{"s":"V3","f":0.1167,"v":2.65e-10},{"s":"V3","f":0.1333,"v":2.45e-10},{"s":"V3","f":0.15,"v":3.92e-10},{"s":"V3","f":0.1667,"v":4.58e-10},{"s":"V3","f":0.1833,"v":5.1e-10},{"s":"V3","f":0.2,"v":5.3e-10},{"s":"V3","f":0.2167,"v":4.8e-10},{"s":"V3","f":0.2333,"v":3.77e-10},{"s":"V3","f":0.25,"v":2.75e-10},{"s":"V3","f":0.2667,"v":2.7e-10},{"s":"V3","f":0.2833,"v":3.2e-10},{"s":"V3","f":0.3,"v":2.01e-10},{"s":"V3","f":0.3167,"v":1.26e-10},{"s":"V3","f":0.3333,"v":1.26e-10},{"s":"V3","f":0.35,"v":1.32e-10},{"s":"V3","f":0.3667,"v":1.06e-10},{"s":"V3","f":0.3833,"v":7.55e-11},{"s":"V3","f":0.4,"v":7.3e-11},{"s":"V3","f":0.4167,"v":7.0e-11},{"s":"V3","f":0.4333,"v":6.0e-11},{"s":"V3","f":0.45,"v":7.55e-11},{"s":"V3","f":0.4667,"v":8.2e-11},{"s":"V3","f":0.4833,"v":7.0e-11},{"s":"V3","f":0.5,"v":6.7e-11},{"s":"V3","f":0.5333,"v":5.3e-11},{"s":"V3","f":0.55,"v":5.1e-11},{"s":"V3","f":0.5833,"v":5.3e-11},{"s":"V3","f":0.6,"v":5.1e-11},{"s":"V3","f":0.6333,"v":5.7e-11},{"s":"V3","f":0.65,"v":4.3e-11},{"s":"V3","f":0.6667,"v":3.9e-11},{"s":"V3","f":0.7,"v":3.5e-11},{"s":"V3","f":0.7333,"v":3.1e-11},{"s":"V3","f":0.7667,"v":2.9e-11},{"s":"V3","f":0.8,"v":3.0e-11},{"s":"V3","f":0.8333,"v":2.9e-11},{"s":"V3","f":0.8667,"v":3.3e-11},{"s":"V3","f":0.9,"v":2.75e-11},{"s":"V3","f":0.95,"v":3.0e-11},{"s":"V3","f":1.0,"v":3.1e-11},{"s":"V3","f":1.05,"v":2.6e-11},{"s":"V3","f":1.1,"v":3.2e-11},{"s":"V3","f":1.15,"v":2.4e-11},{"s":"V3","f":1.2,"v":2.9e-11},{"s":"V3","f":1.3,"v":2.5e-11},{"s":"V3","f":1.4,"v":3.1e-11},{"s":"V3","f":1.5,"v":2.8e-11},{"s":"V3","f":1.6,"v":3.3e-11},{"s":"V3","f":1.7,"v":2.6e-11},{"s":"V3","f":1.85,"v":3.2e-11},{"s":"V3","f":2.0,"v":2.8e-11},{"s":"V3","f":2.1,"v":2.0e-11},{"s":"V3","f":2.2,"v":3.0e-11},{"s":"V3","f":2.4,"v":2.6e-11},{"s":"V3","f":2.6,"v":3.3e-11},{"s":"V3","f":2.8,"v":2.7e-11},{"s":"V3","f":3.0,"v":3.4e-11},{"s":"V3","f":3.2,"v":2.8e-11},{"s":"V3","f":3.5,"v":3.3e-11},{"s":"V3","f":3.7,"v":2.9e-11},{"s":"V3","f":3.9,"v":4.9e-11},{"s":"V3","f":4.1,"v":3.0e-11},{"s":"V3","f":4.4,"v":2.0e-11},{"s":"V3","f":4.7,"v":3.2e-11},{"s":"V3","f":5.0,"v":3.6e-11},{"s":"V3","f":5.4,"v":2.9e-11},{"s":"V3","f":5.8,"v":3.5e-11},{"s":"V3","f":6.3,"v":3.0e-11},{"s":"V3","f":6.8,"v":3.7e-11},{"s":"V3","f":7.3,"v":3.1e-11},{"s":"V3","f":7.9,"v":3.9e-11},{"s":"V3","f":8.5,"v":3.0e-11},{"s":"V3","f":9.1,"v":3.8e-11},{"s":"V3","f":9.8,"v":3.2e-11},{"s":"V3","f":10.5,"v":4.2e-11},{"s":"V3","f":11.2,"v":3.0e-11},{"s":"V3","f":12.0,"v":5.0e-11},{"s":"V3","f":12.8,"v":3.1e-11},{"s":"V3","f":13.7,"v":5.3e-11},{"s":"V3","f":14.6,"v":3.0e-11},{"s":"V3","f":15.6,"v":5.2e-11},{"s":"V3","f":16.6,"v":3.2e-11},{"s":"V3","f":17.6,"v":5.0e-11},{"s":"V3","f":18.0,"v":6.2e-11},{"s":"V3","f":18.8,"v":3.0e-11},{"s":"V3","f":19.8,"v":4.6e-11},{"s":"V3","f":20.8,"v":2.6e-11},
      {"s":"V3","f":22,"v":3.7e-11},{"s":"V3","f":23,"v":1.9e-11},{"s":"V3","f":23.5,"v":3.6e-11},{"s":"V3","f":24,"v":2.0e-11},{"s":"V3","f":24.5,"v":3.8e-11},{"s":"V3","f":25,"v":1.9e-11},{"s":"V3","f":25.5,"v":3.5e-11},{"s":"V3","f":26,"v":2.1e-11},{"s":"V3","f":26.5,"v":3.7e-11},{"s":"V3","f":27,"v":1.9e-11},{"s":"V3","f":27.5,"v":3.6e-11},{"s":"V3","f":28,"v":2.0e-11},{"s":"V3","f":28.5,"v":3.8e-11},{"s":"V3","f":29,"v":2.1e-11},{"s":"V3","f":29.6,"v":7.5e-11},{"s":"V3","f":30,"v":2.0e-11},{"s":"V3","f":30.6,"v":3.7e-11},{"s":"V3","f":31.2,"v":1.9e-11},{"s":"V3","f":31.8,"v":3.6e-11},{"s":"V3","f":32.4,"v":2.0e-11},{"s":"V3","f":33,"v":3.8e-11},{"s":"V3","f":33.7,"v":1.9e-11},{"s":"V3","f":34.4,"v":3.5e-11},{"s":"V3","f":35.1,"v":2.1e-11},{"s":"V3","f":35.8,"v":3.7e-11},{"s":"V3","f":36.5,"v":1.9e-11},{"s":"V3","f":37.2,"v":3.8e-11},{"s":"V3","f":38,"v":2.0e-11},{"s":"V3","f":38.8,"v":3.6e-11},{"s":"V3","f":39.6,"v":1.8e-11},{"s":"V3","f":40.4,"v":3.7e-11},{"s":"V3","f":41.2,"v":2.0e-11},{"s":"V3","f":42,"v":3.8e-11},{"s":"V3","f":42.8,"v":1.9e-11},{"s":"V3","f":43.7,"v":3.5e-11},{"s":"V3","f":44.6,"v":2.1e-11},{"s":"V3","f":45.5,"v":3.7e-11},{"s":"V3","f":46.4,"v":1.9e-11},{"s":"V3","f":47.3,"v":3.8e-11},{"s":"V3","f":48.2,"v":2.0e-11},{"s":"V3","f":49.2,"v":3.6e-11},{"s":"V3","f":50.2,"v":1.8e-11},{"s":"V3","f":51.2,"v":3.7e-11},{"s":"V3","f":52.2,"v":2.0e-11},{"s":"V3","f":53.2,"v":3.8e-11},{"s":"V3","f":54.3,"v":1.9e-11},{"s":"V3","f":55.4,"v":3.6e-11},{"s":"V3","f":56.5,"v":2.0e-11},{"s":"V3","f":57.6,"v":3.7e-11},{"s":"V3","f":58.8,"v":1.9e-11},{"s":"V3","f":59.8,"v":1.0e-10},{"s":"V3","f":60.6,"v":1.9e-11},{"s":"V3","f":61.2,"v":3.8e-11},{"s":"V3","f":62.4,"v":2.0e-11},{"s":"V3","f":63.6,"v":3.6e-11},{"s":"V3","f":64.9,"v":1.8e-11},{"s":"V3","f":66.2,"v":3.7e-11},{"s":"V3","f":67.5,"v":2.0e-11},{"s":"V3","f":68.9,"v":3.8e-11},{"s":"V3","f":70.3,"v":1.9e-11},{"s":"V3","f":71.7,"v":3.5e-11},{"s":"V3","f":73.1,"v":2.1e-11},{"s":"V3","f":74.6,"v":3.7e-11},{"s":"V3","f":76.1,"v":1.8e-11},{"s":"V3","f":77.6,"v":3.8e-11},{"s":"V3","f":79.2,"v":2.0e-11},{"s":"V3","f":80.8,"v":3.6e-11},{"s":"V3","f":82.4,"v":1.9e-11},{"s":"V3","f":84,"v":3.7e-11},{"s":"V3","f":85.7,"v":2.0e-11},{"s":"V3","f":87.4,"v":3.8e-11},{"s":"V3","f":89.2,"v":1.8e-11},{"s":"V3","f":91,"v":3.6e-11},{"s":"V3","f":92.8,"v":2.0e-11},{"s":"V3","f":94.7,"v":3.7e-11},{"s":"V3","f":96.6,"v":1.9e-11},{"s":"V3","f":98.5,"v":3.8e-11},{"s":"V3","f":100.5,"v":2.0e-11},{"s":"V3","f":102.5,"v":3.5e-11},{"s":"V3","f":104.5,"v":1.8e-11},{"s":"V3","f":106.6,"v":3.7e-11},{"s":"V3","f":108.7,"v":2.0e-11},{"s":"V3","f":110.9,"v":3.8e-11},{"s":"V3","f":113.1,"v":1.9e-11},{"s":"V3","f":115.4,"v":3.6e-11},{"s":"V3","f":117.7,"v":1.8e-11},{"s":"V3","f":120,"v":3.7e-11},{"s":"V3","f":122.4,"v":2.0e-11},{"s":"V3","f":124.9,"v":3.8e-11},{"s":"V3","f":127.4,"v":1.9e-11},{"s":"V3","f":129.9,"v":3.6e-11},{"s":"V3","f":132.5,"v":1.8e-11},{"s":"V3","f":135.2,"v":3.7e-11},{"s":"V3","f":137.9,"v":2.0e-11},{"s":"V3","f":140.6,"v":3.8e-11},{"s":"V3","f":143.4,"v":1.9e-11},{"s":"V3","f":146.3,"v":3.5e-11},{"s":"V3","f":149.2,"v":1.8e-11},{"s":"V3","f":152.2,"v":3.7e-11},{"s":"V3","f":155.3,"v":2.0e-11},{"s":"V3","f":158.4,"v":3.8e-11},{"s":"V3","f":161.5,"v":1.9e-11},{"s":"V3","f":164.7,"v":3.6e-11},{"s":"V3","f":168,"v":1.8e-11},{"s":"V3","f":171.4,"v":3.7e-11},{"s":"V3","f":174.8,"v":2.0e-11},{"s":"V3","f":178.3,"v":3.8e-11},{"s":"V3","f":181,"v":1.26e-10},{"s":"V3","f":181.9,"v":1.9e-11},{"s":"V3","f":185.5,"v":3.6e-11},{"s":"V3","f":189.2,"v":1.8e-11},{"s":"V3","f":193,"v":3.7e-11},{"s":"V3","f":196.9,"v":1.9e-11},{"s":"V3","f":200,"v":3.5e-11},
      {"s":"ADE","f":0.01,"v":7.45e-10},{"s":"ADE","f":0.0333,"v":3.22e-10},{"s":"ADE","f":0.05,"v":2.45e-10},{"s":"ADE","f":0.0667,"v":2.01e-10},{"s":"ADE","f":0.1,"v":1.53e-10},{"s":"ADE","f":0.2,"v":1.09e-10},{"s":"ADE","f":0.4,"v":7.9e-11},{"s":"ADE","f":0.6667,"v":6.06e-11},{"s":"ADE","f":100,"v":6.06e-11}
    ]
  },
  "bounds": "flush",
  "spacing": 112,
  "resolve": {
    "scale": {"x": "independent", "y": "independent", "color": "independent"},
    "axis": {"x": "independent", "y": "independent"},
    "legend": {"color": "independent"}
  },
  "vconcat": [
    {
      "data": {"name": "st1"},
      "width": 1860,
      "height": 560,
      "title": {"text": "ETMY_ST1", "fontSize": 27, "fontWeight": "normal", "offset": -17, "baseline": "alphabetic"},
      "encoding": {
        "color": {
          "field": "s",
          "type": "nominal",
          "scale": {
            "domain": ["H1", "H2", "H3", "V1", "V2", "V3", "ADE"],
            "range": ["#1f77b4", "#ff7f0e", "#2ca02c", "#d62728", "#9467bd", "#8c564b", "#e377c2"]
          },
          "legend": {"title": null, "labelExpr": "datum.label == 'ADE' ? 'ADE 1mm noise' : 'ETMY_ST1_CPSINF_' + datum.label"}
        }
      },
      "resolve": {"axis": {"x": "independent", "y": "independent"}},
      "layer": [
        {
          "transform": [{"filter": "datum.s != 'ADE'"}],
          "mark": {"type": "line", "strokeWidth": 4.4, "clip": true, "strokeJoin": "round"},
          "encoding": {
            "x": {
              "field": "f",
              "type": "quantitative",
              "scale": {"type": "log", "domain": [0.01, 200], "nice": false},
              "axis": {
                "values": [0.01,0.02,0.03,0.04,0.05,0.06,0.07,0.08,0.09,0.1,0.2,0.3,0.4,0.5,0.6,0.7,0.8,0.9,1,2,3,4,5,6,7,8,9,10,20,30,40,50,60,70,80,90,100],
                "labelExpr": "abs(log(datum.value)/LN10 - round(log(datum.value)/LN10)) < 0.000001 ? '10' + (round(log(datum.value)/LN10) < 0 ? '⁻' : '') + (abs(round(log(datum.value)/LN10)) >= 10 ? '¹' : '') + ['⁰','¹','²','³','⁴','⁵','⁶','⁷','⁸','⁹'][abs(round(log(datum.value)/LN10)) % 10] : ''",
                "grid": true,
                "tickSize": 4.4,
                "labelPadding": 8,
                "labelFontSize": 15,
                "title": "Freq (hz)",
                "titleFontSize": 25,
                "titleY": 53,
                "titleBaseline": "alphabetic"
              }
            },
            "y": {
              "field": "v",
              "type": "quantitative",
              "scale": {"type": "log", "domain": [4.53e-11, 1.43e-7], "nice": false},
              "axis": {
                "values": [5e-11,6e-11,7e-11,8e-11,9e-11,1e-10,2e-10,3e-10,4e-10,5e-10,6e-10,7e-10,8e-10,9e-10,1e-9,2e-9,3e-9,4e-9,5e-9,6e-9,7e-9,8e-9,9e-9,1e-8,2e-8,3e-8,4e-8,5e-8,6e-8,7e-8,8e-8,9e-8,1e-7],
                "labelExpr": "abs(log(datum.value)/LN10 - round(log(datum.value)/LN10)) < 0.000001 ? '10' + (round(log(datum.value)/LN10) < 0 ? '⁻' : '') + (abs(round(log(datum.value)/LN10)) >= 10 ? '¹' : '') + ['⁰','¹','²','³','⁴','⁵','⁶','⁷','⁸','⁹'][abs(round(log(datum.value)/LN10)) % 10] : ''",
                "grid": true,
                "tickSize": 4.4,
                "labelPadding": 4,
                "labelFontSize": 15,
                "title": "m/rthz",
                "titleFontSize": 24,
                "titleAngle": 270,
                "titleX": -57,
                "titleY": 280,
                "titleAlign": "center",
                "titleBaseline": "alphabetic"
              }
            }
          }
        },
        {
          "transform": [{"filter": "datum.s == 'ADE'"}],
          "mark": {"type": "line", "strokeWidth": 4.4, "clip": true},
          "encoding": {
            "x": {
              "field": "f",
              "type": "quantitative",
              "scale": {"type": "log", "domain": [0.01, 200], "nice": false},
              "axis": {"orient": "bottom", "values": [0.01, 0.1, 1, 10, 100], "tickSize": 7.8, "labels": false, "grid": false, "title": null}
            },
            "y": {
              "field": "v",
              "type": "quantitative",
              "scale": {"type": "log", "domain": [4.53e-11, 1.43e-7], "nice": false},
              "axis": {
                "orient": "right",
                "ticks": false,
                "labels": false,
                "grid": false,
                "title": "/opt/rtcds/userapps/trunk/sys/h1/scripts/BSC_cps_spectra.py",
                "titleFontSize": 16,
                "titleAngle": 270,
                "titleX": 127,
                "titleY": 688,
                "titleAlign": "center",
                "titleBaseline": "middle"
              }
            }
          }
        }
      ]
    },
    {
      "data": {"name": "st2"},
      "width": 1860,
      "height": 560,
      "title": {"text": "ETMY_ST2", "fontSize": 27, "fontWeight": "normal", "offset": -17, "baseline": "alphabetic"},
      "encoding": {
        "color": {
          "field": "s",
          "type": "nominal",
          "scale": {
            "domain": ["H1", "H2", "H3", "V1", "V2", "V3", "ADE"],
            "range": ["#1f77b4", "#ff7f0e", "#2ca02c", "#d62728", "#9467bd", "#8c564b", "#e377c2"]
          },
          "legend": {"title": null, "labelExpr": "datum.label == 'ADE' ? 'ADE .25mm noise' : 'ETMY_ST2_CPSINF_' + datum.label"}
        }
      },
      "resolve": {"axis": {"x": "independent", "y": "independent"}},
      "layer": [
        {
          "transform": [{"filter": "datum.s != 'ADE'"}],
          "mark": {"type": "line", "strokeWidth": 4.4, "clip": true, "strokeJoin": "round"},
          "encoding": {
            "x": {
              "field": "f",
              "type": "quantitative",
              "scale": {"type": "log", "domain": [0.01, 200], "nice": false},
              "axis": {
                "values": [0.01,0.02,0.03,0.04,0.05,0.06,0.07,0.08,0.09,0.1,0.2,0.3,0.4,0.5,0.6,0.7,0.8,0.9,1,2,3,4,5,6,7,8,9,10,20,30,40,50,60,70,80,90,100],
                "labelExpr": "abs(log(datum.value)/LN10 - round(log(datum.value)/LN10)) < 0.000001 ? '10' + (round(log(datum.value)/LN10) < 0 ? '⁻' : '') + (abs(round(log(datum.value)/LN10)) >= 10 ? '¹' : '') + ['⁰','¹','²','³','⁴','⁵','⁶','⁷','⁸','⁹'][abs(round(log(datum.value)/LN10)) % 10] : ''",
                "grid": true,
                "tickSize": 4.4,
                "labelPadding": 8,
                "labelFontSize": 15,
                "title": "Freq (hz)",
                "titleFontSize": 25,
                "titleY": 53,
                "titleBaseline": "alphabetic"
              }
            },
            "y": {
              "field": "v",
              "type": "quantitative",
              "scale": {"type": "log", "domain": [3.04e-12, 1.2e-7], "nice": false},
              "axis": {
                "values": [4e-12,5e-12,6e-12,7e-12,8e-12,9e-12,1e-11,2e-11,3e-11,4e-11,5e-11,6e-11,7e-11,8e-11,9e-11,1e-10,2e-10,3e-10,4e-10,5e-10,6e-10,7e-10,8e-10,9e-10,1e-9,2e-9,3e-9,4e-9,5e-9,6e-9,7e-9,8e-9,9e-9,1e-8,2e-8,3e-8,4e-8,5e-8,6e-8,7e-8,8e-8,9e-8,1e-7],
                "labelExpr": "abs(log(datum.value)/LN10 - round(log(datum.value)/LN10)) < 0.000001 ? '10' + (round(log(datum.value)/LN10) < 0 ? '⁻' : '') + (abs(round(log(datum.value)/LN10)) >= 10 ? '¹' : '') + ['⁰','¹','²','³','⁴','⁵','⁶','⁷','⁸','⁹'][abs(round(log(datum.value)/LN10)) % 10] : ''",
                "grid": true,
                "tickSize": 4.4,
                "labelPadding": 4,
                "labelFontSize": 15,
                "title": "m/rthz",
                "titleFontSize": 24,
                "titleAngle": 270,
                "titleX": -57,
                "titleY": 280,
                "titleAlign": "center",
                "titleBaseline": "alphabetic"
              }
            }
          }
        },
        {
          "transform": [{"filter": "datum.s == 'ADE'"}],
          "mark": {"type": "line", "strokeWidth": 4.4, "clip": true},
          "encoding": {
            "x": {
              "field": "f",
              "type": "quantitative",
              "scale": {"type": "log", "domain": [0.01, 200], "nice": false},
              "axis": {
                "orient": "bottom",
                "values": [0.01, 0.1, 1, 10, 100],
                "tickSize": 7.8,
                "labels": false,
                "grid": false,
                "title": "calibration only >10hz",
                "titleFontSize": 16,
                "titleX": 922,
                "titleY": 90,
                "titleAlign": "center",
                "titleBaseline": "alphabetic"
              }
            },
            "y": {
              "field": "v",
              "type": "quantitative",
              "scale": {"type": "log", "domain": [3.04e-12, 1.2e-7], "nice": false},
              "axis": null
            }
          }
        }
      ]
    }
  ]
}
